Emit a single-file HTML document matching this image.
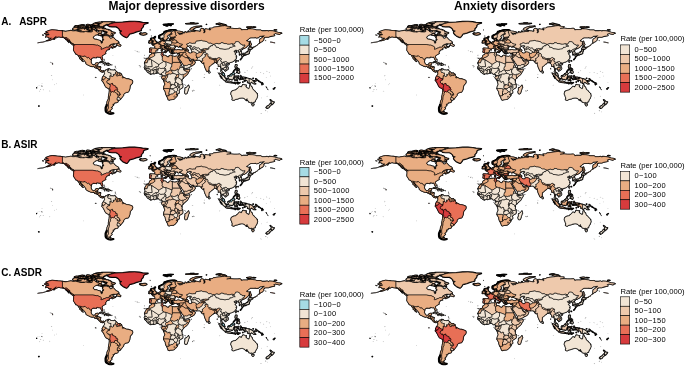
<!DOCTYPE html>
<html><head><meta charset="utf-8"><title>Figure</title>
<style>
html,body{margin:0;padding:0;background:#fff;}
body{width:685px;height:366px;overflow:hidden;font-family:"Liberation Sans",sans-serif;}
svg{display:block;}
text{font-family:"Liberation Sans",sans-serif;fill:#000;}
.t{font-size:12px;font-weight:bold;}
.r{font-size:10px;font-weight:bold;}
.lt{font-size:7.65px;}
.ll{font-size:7.5px;letter-spacing:0.3px;}
</style></head><body>
<svg width="685" height="366" viewBox="0 0 685 366">
<defs>
<path id="c0" d="M62.4,30.9L65.7,31.4L67.7,31.0L71.0,30.4L73.0,31.0L75.6,30.8L78.3,31.4L80.3,32.0L82.9,32.0L84.3,32.0L85.6,31.4L88.2,32.1L90.9,32.1L92.2,31.8L92.2,31.0L92.9,29.4L94.9,30.3L95.5,31.0L96.2,31.6L97.5,32.3L98.8,32.0L99.5,30.8L101.5,31.3L101.8,32.3L100.8,33.1L98.8,33.1L98.2,33.9L97.5,34.6L95.8,34.9L94.5,35.9L93.5,36.6L93.1,37.9L94.5,39.2L96.8,39.4L99.5,40.4L100.6,40.5L100.7,41.9L101.1,42.6L101.3,43.3L102.1,43.2L102.5,42.2L102.3,40.9L103.5,40.2L103.8,39.2L102.7,38.1L103.1,37.2L103.1,35.7L106.8,35.7L109.4,36.6L109.8,37.9L110.8,38.4L112.1,37.9L113.1,37.0L114.7,38.9L116.1,40.2L117.7,40.9L118.9,42.2L118.0,42.9L116.1,43.7L113.4,43.7L111.4,44.2L109.8,45.2L108.8,46.0L110.8,44.7L112.7,44.4L113.2,44.7L112.7,45.2L112.7,45.9L113.4,46.5L115.1,46.7L116.1,46.3L116.1,45.9L115.4,47.0L113.7,47.5L112.4,48.2L111.9,47.9L113.1,47.0L111.4,47.1L110.9,45.8L110.0,45.6L109.1,46.9L108.4,47.2L106.3,47.2L105.1,47.9L103.5,48.3L103.5,48.6L101.1,49.4L100.8,49.0L101.1,48.5L101.3,47.2L100.5,46.5L99.8,46.2L97.5,45.1L96.5,45.2L92.9,44.5L74.3,44.5L73.0,43.5L71.3,42.9L71.0,42.2L69.7,41.0L69.7,40.0L68.4,39.2L67.4,38.1L66.0,37.4L64.7,38.0L63.7,37.2L62.4,37.1ZM74.1,44.9L72.7,44.7L70.8,43.4L71.7,43.3L73.0,43.9L74.0,44.5ZM69.0,42.6L67.7,41.2L68.5,41.2L68.7,41.9ZM116.5,45.5L117.7,43.5L119.0,42.8L118.7,43.9L120.7,44.9L120.9,45.5L120.4,46.1L119.0,45.9L118.0,45.5Z"/>
<path id="c0t" d="M113.1,44.0L114.7,44.3L113.7,44.4ZM113.2,46.1L114.7,46.3L114.3,46.5Z"/>
<path id="c1" d="M74.3,44.5L92.9,44.5L96.5,45.2L97.5,45.1L99.8,46.2L100.5,46.5L101.3,47.2L101.1,48.5L100.8,49.0L101.1,49.4L103.5,48.6L103.5,48.3L105.1,47.9L106.3,47.2L108.4,47.2L109.1,46.9L110.0,45.6L110.9,45.8L111.4,47.1L111.4,47.5L109.4,48.0L109.0,48.7L109.4,49.4L108.4,49.6L106.8,50.1L106.6,50.8L105.8,51.5L105.5,52.5L105.8,53.6L104.8,54.1L103.5,54.9L102.1,55.8L101.9,56.8L102.5,58.5L102.8,59.8L102.5,60.3L101.8,60.1L101.0,58.6L101.0,57.8L100.2,57.1L99.2,57.3L97.5,56.9L96.5,57.0L96.6,57.8L95.5,57.7L93.5,57.4L91.5,58.5L91.3,59.8L90.2,59.4L89.2,58.1L88.6,57.3L87.6,57.8L86.6,57.3L85.2,55.9L84.1,55.9L84.1,56.3L82.3,56.3L79.7,55.5L78.2,55.5L77.3,54.5L75.9,54.1L75.0,52.6L74.6,52.0L73.8,50.8L73.5,50.2L73.5,49.2L73.7,47.5L73.7,46.4L73.2,44.9L74.3,45.1L74.6,45.5Z"/>
<path id="c2" d="M62.4,30.9L62.4,37.1L63.7,37.2L64.7,38.0L66.0,37.4L67.4,38.1L68.4,39.2L69.7,40.0L69.7,40.6L68.4,40.6L67.0,39.6L65.7,38.7L65.0,38.2L63.4,37.4L60.4,37.2L59.1,36.8L57.8,36.9L56.4,37.7L55.2,37.8L55.4,36.7L56.4,36.5L54.4,37.6L53.8,38.2L52.1,39.2L50.8,39.9L49.1,40.4L47.8,40.8L46.6,40.8L48.5,40.0L49.8,39.6L51.5,38.1L50.5,38.1L48.5,37.9L48.5,37.2L46.5,36.7L45.8,36.2L46.2,35.6L47.8,35.1L49.1,34.8L49.1,34.3L47.2,34.3L45.5,34.1L44.4,33.5L47.2,32.9L48.5,33.1L47.5,32.6L45.8,31.8L47.8,31.0L49.8,30.3L52.1,29.8L55.1,30.1L57.8,30.4L60.4,30.6ZM53.4,38.9L54.8,38.4L54.9,38.9L53.8,39.4Z"/>
<path id="c2t" d="M42.0,34.9L44.0,35.1L43.2,35.3ZM45.0,37.1L46.0,37.1L45.8,37.4ZM52.5,64.4L53.1,64.0L52.6,63.6ZM52.0,63.2L52.5,63.2L52.2,63.4ZM51.0,62.8L51.3,62.8L51.1,62.9ZM50.0,62.4L50.3,62.4L50.1,62.5Z"/>
<path id="c3" d="M46.6,40.8L45.5,41.3L44.2,41.8L42.5,42.2L40.2,42.4L38.8,42.7L37.9,42.8L37.5,42.9L37.9,42.7L38.8,42.6L40.2,42.4L42.5,42.1L44.2,41.7L45.5,41.2ZM270.1,42.0L271.7,42.3L273.7,42.7L275.1,42.9L273.7,42.6L271.7,42.1Z"/>
<path id="c4" d="M107.4,25.2L110.8,23.7L114.7,22.7L122.7,22.3L129.3,21.7L134.6,21.6L139.2,22.0L142.6,22.7L147.9,23.0L144.5,24.0L143.2,25.0L143.2,26.3L142.6,27.3L141.2,28.6L141.2,29.3L141.2,30.3L139.2,31.0L135.9,31.8L133.3,32.9L130.6,33.5L129.3,33.9L128.6,35.3L127.3,36.9L126.7,37.4L125.3,36.8L123.3,35.9L121.7,34.6L120.4,32.9L120.4,32.0L122.0,31.0L119.7,30.3L119.4,29.0L118.0,27.6L116.1,26.6L112.1,26.6L109.4,26.3L108.8,25.7Z"/>
<path id="c5" d="M78.2,55.5L79.7,55.5L82.3,56.3L84.1,56.3L84.1,55.9L85.2,55.9L86.6,57.3L87.6,57.8L88.6,57.3L89.2,58.1L90.2,59.4L91.3,59.8L91.0,62.1L91.9,64.1L93.2,64.9L94.9,64.7L95.8,63.1L97.5,62.8L98.2,62.8L98.3,63.4L97.8,64.4L97.3,64.7L96.8,65.2L95.5,65.2L95.5,65.6L95.8,66.3L95.0,66.3L94.7,67.4L93.5,66.3L92.2,66.6L90.5,66.2L89.6,65.7L88.2,65.1L86.9,64.4L85.9,63.5L86.0,62.8L85.2,61.6L84.3,60.4L83.3,59.4L82.6,58.6L81.3,57.5L80.9,56.5L79.7,55.9L79.9,56.8L80.9,58.1L81.9,59.4L82.6,60.8L83.3,61.6L82.7,61.4L81.6,60.6L81.4,59.8L80.3,59.0L79.6,58.6L80.1,58.1L79.1,57.0L78.5,56.1Z"/>
<path id="c6" d="M94.7,67.4L95.0,66.3L95.8,66.3L95.5,65.6L95.5,65.2L96.8,65.2L96.7,66.5L97.4,66.6L96.6,67.5L96.1,67.9Z"/>
<path id="c7" d="M96.8,65.2L97.3,64.7L97.5,65.4L96.9,66.5L96.7,66.5Z"/>
<path id="c8" d="M96.1,67.9L96.6,67.5L97.6,67.8L97.6,68.3Z"/>
<path id="c9" d="M96.6,67.5L97.4,66.6L98.8,66.4L100.7,67.1L99.6,67.3L98.4,67.9L98.0,68.4L97.6,68.3L97.6,67.8Z"/>
<path id="c10" d="M98.0,68.4L98.4,67.9L99.6,67.3L100.7,67.1L100.5,68.4L100.3,69.7L99.0,69.6L97.7,68.5Z"/>
<path id="c11" d="M99.0,69.6L100.3,69.7L101.1,70.6L100.9,71.6L100.5,71.4L99.5,70.6L99.0,70.0Z"/>
<path id="c12" d="M100.9,71.6L101.1,70.6L102.1,71.2L103.1,70.6L104.5,71.2L104.2,72.2L103.8,71.4L102.8,71.5L102.5,72.2L101.8,71.9Z"/>
<path id="c13" d="M99.5,62.5L100.8,61.8L102.5,61.7L104.8,62.6L106.6,63.6L104.5,63.8L104.1,63.3L102.8,62.6L101.5,62.2L100.2,62.6Z"/>
<path id="c14" d="M106.5,64.8L107.4,63.8L108.2,63.9L108.2,65.1L107.4,64.9Z"/>
<path id="c15" d="M108.2,63.9L109.4,63.9L110.5,64.7L109.4,64.9L108.2,65.1Z"/>
<path id="c16t" d="M103.9,64.8L105.3,65.0L104.8,65.2Z"/>
<path id="c17t" d="M111.3,64.8L112.3,64.9L111.7,65.1Z"/>
<path id="c18t" d="M103.9,59.3L104.5,59.4L104.2,59.5ZM104.2,60.6L104.4,60.9L104.1,61.0ZM104.6,60.4L104.5,60.4L104.5,60.4ZM105.8,61.0L105.9,61.0L105.8,61.1ZM107.0,63.1L107.4,62.9L107.3,63.2Z"/>
<path id="c19t" d="M114.8,69.9L115.4,69.9L115.3,70.3Z"/>
<path id="c20t" d="M115.1,66.8L115.2,66.8L115.1,66.9ZM115.3,67.3L115.5,67.3L115.4,67.5ZM115.4,67.8L115.5,67.9L115.4,67.9ZM116.3,68.3L116.4,68.3L116.3,68.4ZM114.9,69.0L115.0,69.0L114.9,69.0ZM114.9,65.7L114.9,65.7L114.9,65.7ZM114.9,66.2L115.3,66.3L115.0,66.4ZM110.0,68.9L110.2,69.0L110.1,69.0Z"/>
<path id="c21" d="M104.5,71.2L105.5,70.8L105.8,70.0L106.2,69.7L107.4,69.5L108.3,68.8L108.6,69.2L107.8,69.7L107.4,70.9L107.8,71.5L108.1,72.4L109.4,72.4L109.8,73.0L111.1,72.9L110.9,74.0L111.2,74.8L110.9,75.1L111.5,76.2L111.1,75.7L109.6,75.9L109.6,76.3L110.0,76.3L109.8,77.7L109.5,79.8L109.0,79.5L109.4,78.8L108.1,78.6L107.3,78.5L106.8,77.7L106.0,77.1L105.3,76.7L104.5,76.5L103.6,76.1L103.8,75.3L104.5,74.3L104.6,73.4L104.5,72.6L104.2,72.2Z"/>
<path id="c22" d="M108.6,69.2L108.4,69.8L108.8,70.8L108.4,69.8L109.4,68.9L110.6,70.0L112.1,70.0L113.4,70.2L114.7,69.9L115.4,70.7L116.2,71.5L115.6,72.0L115.9,72.4L115.3,72.6L115.1,73.1L115.6,73.6L114.3,74.3L114.2,74.5L113.1,74.3L113.8,75.5L113.3,75.3L113.4,76.0L112.4,76.5L111.5,76.2L110.9,75.1L111.2,74.8L110.9,74.0L111.1,72.9L109.8,73.0L109.4,72.4L108.1,72.4L107.8,71.5L107.4,70.9L107.8,69.7Z"/>
<path id="c23" d="M116.2,71.5L116.7,71.7L117.9,73.0L117.8,73.7L117.4,74.3L117.9,74.8L118.4,75.7L116.8,76.2L116.4,75.7L116.1,74.4L116.1,73.7L115.6,73.6L115.1,73.1L115.3,72.6L115.9,72.4L115.6,72.0Z"/>
<path id="c24" d="M117.9,73.0L120.0,73.1L119.7,73.8L119.8,74.3L119.6,75.5L118.8,75.3L118.4,75.7L117.9,74.8L117.4,74.3L117.8,73.7Z"/>
<path id="c25" d="M120.0,73.1L121.5,74.2L120.8,75.5L119.6,75.5L119.8,74.3L119.7,73.8Z"/>
<path id="c26" d="M103.6,76.1L104.5,76.5L105.3,76.7L106.0,77.1L105.7,78.0L104.9,78.7L103.9,79.3L103.7,80.0L103.3,80.2L102.5,79.9L102.6,79.3L102.8,78.7L102.1,78.5L102.3,77.7L102.8,77.0L102.8,76.5Z"/>
<path id="c26t" d="M95.2,77.2L95.5,77.2L95.5,77.7L95.2,77.6ZM95.8,77.3L96.0,77.3L96.0,77.5ZM96.4,77.5L96.6,77.5L96.6,77.6Z"/>
<path id="c27" d="M102.6,79.3L102.5,79.9L103.3,80.2L103.7,80.0L103.9,79.3L104.9,78.7L105.7,78.0L106.0,77.1L106.8,77.7L107.3,78.5L108.1,78.6L109.4,78.8L109.0,79.5L109.5,79.8L107.5,80.4L106.8,81.8L107.4,83.1L108.0,83.6L109.0,83.3L109.0,84.3L109.7,84.3L110.3,85.3L110.1,87.1L109.8,87.7L110.1,88.1L109.8,88.6L109.2,89.1L108.5,88.5L106.0,87.2L105.3,86.2L104.7,85.0L103.8,83.1L102.9,81.6L101.9,80.6L101.9,79.8Z"/>
<path id="c28" d="M109.7,84.3L110.4,84.3L111.6,83.6L112.5,83.4L112.7,85.0L113.7,85.3L114.9,85.9L115.7,86.1L115.9,87.8L117.2,87.8L117.1,88.5L117.7,89.1L117.5,89.6L117.2,90.3L116.6,89.8L114.9,90.0L114.5,90.6L114.3,91.7L114.2,91.6L113.2,92.1L112.7,91.6L111.9,91.4L111.3,92.1L110.8,92.1L110.4,90.8L110.4,89.9L109.8,88.6L110.1,88.1L109.8,87.7L110.1,87.1L110.3,85.3Z"/>
<path id="c29" d="M121.5,74.2L122.0,75.7L122.7,76.7L122.7,77.3L124.0,77.5L126.3,78.7L128.3,78.9L130.3,79.5L132.5,80.5L132.7,82.0L132.3,83.3L131.3,84.3L130.3,85.6L130.0,87.3L129.8,88.8L129.3,90.2L128.6,91.6L128.0,92.2L126.3,92.4L125.1,92.9L123.7,94.1L123.6,95.5L122.7,96.5L121.4,98.2L120.4,99.3L120.0,98.1L118.7,97.5L117.6,97.0L118.8,95.8L120.2,95.0L120.2,94.0L119.6,94.0L119.8,93.0L119.1,92.9L118.8,91.8L117.4,91.6L117.2,90.3L117.5,89.6L117.7,89.1L117.1,88.5L117.2,87.8L115.9,87.8L115.7,86.1L114.9,85.9L113.7,85.3L112.7,85.0L112.5,83.4L111.6,83.6L110.4,84.3L109.7,84.3L109.0,84.3L109.0,83.3L108.0,83.6L107.4,83.1L106.8,81.8L107.5,80.4L109.5,79.8L109.8,77.7L110.0,76.3L109.6,76.3L109.6,75.9L111.1,75.7L111.5,76.2L112.4,76.5L113.4,76.0L113.3,75.3L113.8,75.5L113.1,74.3L114.2,74.5L114.3,74.3L115.6,73.6L116.1,73.7L116.1,74.4L116.4,75.7L116.8,76.2L118.4,75.7L118.8,75.3L119.6,75.5L120.8,75.5ZM122.3,77.0L123.3,77.1L123.7,77.7L122.7,78.1L122.1,77.7Z"/>
<path id="c30" d="M114.3,91.7L114.5,90.6L114.9,90.0L116.6,89.8L117.2,90.3L117.4,91.6L118.8,91.8L119.1,92.9L119.8,93.0L119.6,94.0L118.8,95.2L118.4,95.2L117.0,95.0L117.6,93.9L116.4,93.2L115.4,92.8Z"/>
<path id="c31" d="M117.6,97.0L118.7,97.5L120.0,98.1L120.4,99.3L119.4,100.1L118.6,100.1L117.1,99.5L117.2,98.5Z"/>
<path id="c32" d="M111.3,92.1L111.9,91.4L112.7,91.6L113.2,92.1L114.2,91.6L114.3,91.7L115.4,92.8L116.4,93.2L117.6,93.9L117.0,95.0L118.4,95.2L118.8,95.2L119.6,94.0L120.2,94.0L120.2,95.0L118.8,95.8L117.6,97.0L117.2,98.5L117.1,99.5L117.1,99.9L117.9,100.5L118.2,101.2L117.7,102.2L116.7,102.6L114.7,102.8L114.6,103.8L112.7,104.2L113.6,105.2L112.7,105.7L112.4,106.8L111.1,107.5L112.1,108.5L111.1,109.5L110.1,110.5L110.5,111.6L109.4,111.4L108.1,111.4L107.4,110.6L107.6,109.5L108.4,107.8L108.2,106.2L108.2,104.2L108.6,102.2L109.1,100.5L109.4,99.2L109.4,97.9L109.6,96.5L110.5,94.9L110.5,93.2ZM110.4,111.8L112.6,113.2L111.7,113.4L110.4,113.4Z"/>
<path id="c33" d="M109.2,89.1L109.8,88.6L110.4,89.9L110.4,90.8L110.8,92.1L111.3,92.1L110.5,93.2L110.5,94.9L109.6,96.5L109.4,97.9L109.4,99.2L109.1,100.5L108.6,102.2L108.2,104.2L108.2,106.2L108.4,107.8L107.6,109.5L107.4,110.6L108.1,111.4L109.4,111.4L110.5,111.6L109.8,111.8L108.8,112.6L107.8,112.4L106.4,111.8L105.8,110.1L105.7,108.8L105.8,107.8L107.1,106.8L107.4,104.8L106.9,103.5L107.1,101.6L107.6,100.5L108.4,98.9L108.4,96.9L108.8,94.9L109.2,92.6L109.4,90.4ZM110.4,111.8L110.4,113.4L111.4,113.6L110.8,113.9L109.4,113.6L108.1,113.0L106.8,112.1L108.4,112.7L109.1,112.0Z"/>
<path id="c33t" d="M106.6,104.7L107.1,104.8L107.0,105.8L106.5,105.6Z"/>
<path id="c34" d="M149.9,49.2L150.4,49.1L151.7,49.4L151.2,50.5L150.9,51.8L150.9,52.4L149.8,52.5L149.5,51.4L149.9,50.4Z"/>
<path id="c35" d="M149.9,49.2L149.6,48.5L150.5,48.0L153.2,48.2L154.6,48.2L156.3,48.6L157.9,48.9L157.9,49.3L156.3,50.0L155.6,50.8L155.9,51.3L155.3,52.1L154.4,52.7L152.8,52.7L152.1,53.2L151.6,52.6L150.9,52.4L150.9,51.8L151.2,50.5L151.7,49.4L150.4,49.1Z"/>
<path id="c35t" d="M157.3,50.8L158.0,50.6L157.9,51.0ZM144.6,58.2L145.1,58.1L144.9,58.5ZM145.3,58.4L145.6,58.4L145.5,58.6ZM146.3,58.1L146.7,58.0L146.4,58.4ZM143.9,57.9L144.1,57.9L144.0,58.1Z"/>
<path id="c36" d="M154.6,48.2L155.0,47.5L155.0,46.5L154.3,45.7L152.7,45.2L152.7,44.8L153.8,44.7L154.7,44.8L154.6,44.1L155.9,44.1L156.9,43.3L157.5,43.1L158.6,43.9L159.6,44.2L160.0,44.3L161.2,44.5L160.8,45.5L159.8,46.4L160.4,46.6L160.3,47.2L160.8,48.0L159.8,48.4L158.5,48.2L157.9,48.9L156.3,48.6Z"/>
<path id="c36t" d="M161.5,48.9L162.0,48.5L162.1,49.2L161.9,49.6L161.5,49.2Z"/>
<path id="c37" d="M157.5,43.1L158.1,42.9L159.1,42.9L159.6,43.2L159.8,43.3L159.8,43.8L159.6,44.2L158.6,43.9Z"/>
<path id="c38" d="M158.1,42.9L158.5,42.6L158.9,41.9L159.8,41.6L160.6,41.7L160.4,42.4L159.8,42.7L159.8,43.3L159.6,43.2L159.1,42.9Z"/>
<path id="c39" d="M160.6,41.7L161.4,41.5L161.5,40.6L162.4,40.7L163.1,41.2L165.2,41.3L165.5,42.6L165.7,43.2L163.9,43.7L164.9,44.7L164.4,45.5L162.4,45.6L162.2,45.5L160.8,45.5L161.2,44.5L160.0,44.3L159.6,44.2L159.8,43.8L159.8,43.3L159.8,42.7L160.4,42.4Z"/>
<path id="c40" d="M161.5,40.6L161.2,40.2L161.2,39.2L162.8,38.8L162.6,39.6L163.0,39.6L162.4,40.7ZM163.1,40.1L164.1,39.8L164.0,40.4L163.6,40.6L163.1,40.4ZM162.3,40.2L163.0,40.2L162.9,40.6L162.4,40.5Z"/>
<path id="c41" d="M159.8,46.4L160.8,45.5L162.2,45.5L162.7,45.9L162.4,46.3L161.8,46.7L160.4,46.6Z"/>
<path id="c42" d="M162.2,45.5L162.4,45.6L164.4,45.5L164.9,44.7L165.7,44.5L167.1,44.8L167.1,45.2L166.5,46.0L165.4,46.3L164.9,46.2L163.9,46.1L162.7,45.9Z"/>
<path id="c43" d="M160.8,48.0L160.3,47.2L160.4,46.6L161.8,46.7L162.4,46.3L162.7,45.9L163.9,46.1L164.9,46.2L164.9,46.8L163.9,47.0L164.0,47.7L164.8,48.2L165.5,49.1L166.4,49.2L168.1,50.4L167.1,50.2L166.8,50.7L167.1,51.2L166.4,51.8L166.2,51.9L166.4,51.2L166.1,50.5L165.4,50.1L164.1,49.5L163.1,48.9L162.8,48.5L162.6,47.9L161.6,47.6ZM164.0,51.8L166.1,51.7L165.8,52.7L164.1,52.1ZM161.2,49.8L162.2,49.7L162.2,51.0L161.4,51.2Z"/>
<path id="c44" d="M152.0,43.9L153.5,43.7L154.5,43.5L156.7,43.1L156.1,42.9L156.9,42.1L156.0,41.9L155.8,41.5L154.8,40.6L154.5,39.9L154.5,38.8L153.2,38.8L153.8,38.2L152.5,38.2L151.8,39.0L152.2,39.9L152.5,40.6L153.5,40.6L153.8,41.2L153.8,41.6L152.8,41.8L152.8,42.4L152.3,42.7L153.5,42.9L153.8,43.1L152.8,43.2ZM152.2,40.9L151.6,40.4L150.4,40.6L150.5,41.0L151.5,41.2ZM150.8,39.2L151.7,38.3L151.2,38.4L150.8,38.9ZM153.5,37.9L154.1,37.7L153.9,38.0ZM154.7,36.9L155.3,36.8L154.9,37.3Z"/>
<path id="c45" d="M151.8,42.4L151.7,41.7L151.5,41.2L150.5,41.0L150.4,40.6L149.2,41.1L149.2,41.6L149.8,41.8L148.9,42.6L149.5,42.9L150.5,42.7Z"/>
<path id="c46" d="M139.6,33.6L140.9,33.0L142.6,33.4L143.9,33.1L145.2,32.9L146.1,33.3L146.9,33.9L145.9,34.4L143.4,35.0L141.9,34.7L140.8,34.6L141.2,34.3L139.9,34.0L141.2,33.7Z"/>
<path id="c47" d="M159.1,37.9L159.1,36.6L159.1,35.9L161.4,34.9L162.8,34.3L163.8,33.6L164.4,32.6L165.4,32.0L166.4,31.3L168.4,30.6L171.0,30.1L173.0,29.9L174.7,30.0L176.3,30.4L175.7,30.8L175.0,31.3L174.4,30.6L173.0,30.7L172.7,31.4L171.4,31.5L169.4,31.3L167.7,31.6L166.4,32.3L165.4,33.3L164.7,34.3L163.8,34.9L163.9,36.3L164.1,37.1L163.4,37.9L162.8,37.7L161.8,38.2L160.4,38.6L159.4,38.1ZM164.4,31.8L166.1,31.4L165.7,31.8ZM166.1,31.3L167.4,31.0L167.1,31.4Z"/>
<path id="c48" d="M163.4,37.9L164.1,37.1L163.9,36.3L163.8,34.9L164.7,34.3L165.4,33.3L166.4,32.3L167.7,31.6L169.4,31.3L171.4,32.0L171.7,33.4L170.4,33.6L169.7,34.3L168.4,35.1L167.3,35.9L167.2,36.6L168.1,37.2L168.3,37.6L166.9,38.6L166.6,39.6L165.3,40.2L164.4,40.3L164.1,39.6L163.3,38.4Z"/>
<path id="c48t" d="M167.9,38.9L168.4,38.6L168.3,39.0L167.9,39.2ZM166.7,39.7L167.1,39.0L167.0,39.4Z"/>
<path id="c49" d="M171.7,33.4L171.4,32.0L169.4,31.3L171.4,31.5L172.7,31.4L173.0,30.7L174.4,30.6L175.0,31.3L174.7,31.8L175.7,32.3L175.0,32.7L175.7,33.6L175.5,34.3L176.7,35.4L174.4,36.9L172.4,37.1L171.0,37.3L170.0,36.8L169.9,35.9L170.0,35.1L172.4,33.9Z"/>
<path id="c50" d="M171.4,37.8L172.0,37.6L174.4,37.6L174.0,38.7L173.0,38.8L171.9,38.6L171.4,38.2ZM170.4,38.2L171.0,38.2L170.9,38.6L170.4,38.4Z"/>
<path id="c51" d="M169.7,39.8L169.8,38.9L170.8,38.8L171.4,39.2L171.9,38.6L173.0,38.8L174.0,38.7L174.5,39.8L173.4,40.1L172.4,39.7L170.7,39.6Z"/>
<path id="c52" d="M169.7,39.8L170.7,39.6L172.4,39.7L173.4,40.1L172.9,41.0L171.4,41.3L170.9,41.0L170.8,40.6L169.8,40.4Z"/>
<path id="c53" d="M165.2,41.3L166.7,40.9L168.1,40.7L168.9,41.0L170.9,41.0L171.4,41.3L171.6,42.2L171.4,42.9L171.7,43.5L170.8,44.5L169.1,44.3L168.3,44.2L167.1,43.7L165.7,43.2L165.5,42.6Z"/>
<path id="c54" d="M163.9,43.7L165.7,43.2L167.1,43.7L168.3,44.2L167.1,44.8L165.7,44.5L164.9,44.7Z"/>
<path id="c55" d="M167.1,44.8L168.3,44.2L169.1,44.3L170.8,44.5L170.5,44.9L169.1,45.1L168.3,45.3L167.1,45.2Z"/>
<path id="c56" d="M166.5,46.0L167.1,45.2L168.3,45.3L169.1,45.1L170.5,44.9L171.0,45.3L169.8,46.4L169.2,46.5L168.3,46.6L167.4,46.6L166.7,46.2Z"/>
<path id="c57" d="M164.9,46.2L165.4,46.3L166.5,46.0L166.7,46.2L165.9,46.9L164.9,46.8Z"/>
<path id="c58" d="M164.7,46.9L165.9,46.9L166.7,46.2L167.4,46.6L168.3,46.6L168.5,47.2L167.1,47.1L166.3,47.1L166.4,47.7L167.5,48.5L168.1,48.8L167.4,48.6L165.9,47.9L165.4,47.1L165.1,47.3Z"/>
<path id="c59" d="M166.3,47.1L167.1,47.1L168.5,47.2L168.7,47.7L168.6,48.2L168.1,48.8L167.5,48.5L166.4,47.7Z"/>
<path id="c60" d="M168.3,46.6L169.2,46.5L170.0,47.1L170.7,47.5L170.8,47.7L170.7,48.3L170.6,49.0L170.0,49.0L169.4,49.2L169.1,48.7L168.6,48.2L168.7,47.7L168.5,47.2Z"/>
<path id="c61" d="M168.1,48.8L168.6,48.2L169.1,48.7L168.7,49.2Z"/>
<path id="c62" d="M168.7,49.2L169.1,48.7L169.4,49.2L169.7,50.0L169.2,50.7L168.7,50.2Z"/>
<path id="c63" d="M169.4,49.2L170.0,49.0L170.6,49.0L171.0,49.6L169.7,50.0Z"/>
<path id="c64" d="M169.2,50.7L169.7,50.0L171.0,49.6L172.0,49.5L173.2,49.4L173.0,50.0L171.7,50.0L171.6,50.5L170.8,50.2L171.0,51.0L171.7,51.8L171.0,51.9L171.2,52.8L170.7,52.9L170.2,52.6L169.8,51.9L170.4,51.6L169.7,51.6L169.5,51.2ZM171.4,53.5L173.2,53.6L173.0,53.8L171.4,53.7ZM171.2,51.2L171.9,51.7L172.1,51.8L171.4,51.4ZM173.0,51.0L173.4,51.1L173.2,51.2ZM174.2,52.9L174.5,53.0L174.2,53.2ZM172.6,52.4L172.8,52.4L172.7,52.6ZM168.9,50.6L169.1,50.8L169.0,50.9Z"/>
<path id="c65" d="M170.6,49.0L170.7,48.3L170.8,47.7L172.4,48.0L173.7,47.8L174.7,48.0L174.4,49.2L173.2,49.4L172.0,49.5L171.0,49.6Z"/>
<path id="c66" d="M169.2,46.5L169.8,46.4L171.0,45.3L172.3,45.4L173.4,45.0L174.5,46.2L174.5,46.9L175.5,47.0L174.7,48.0L173.7,47.8L172.4,48.0L170.8,47.7L170.7,47.5L170.0,47.1Z"/>
<path id="c67" d="M173.4,45.0L174.4,45.0L175.1,45.3L175.7,46.3L174.9,46.5L174.5,46.9L174.5,46.2Z"/>
<path id="c68" d="M170.5,44.9L170.8,44.5L171.7,43.5L171.4,42.9L172.4,42.6L174.0,42.9L176.0,43.0L176.9,42.5L178.2,42.3L179.3,43.6L181.0,43.9L182.4,44.1L182.2,45.2L181.1,45.8L179.0,46.1L179.0,46.4L179.7,46.7L179.0,47.0L178.3,47.2L177.7,46.7L178.0,46.3L177.0,46.0L176.1,45.9L175.5,47.0L174.5,46.9L174.9,46.5L175.7,46.3L175.1,45.3L174.4,45.0L173.4,45.0L172.3,45.4L171.0,45.3Z"/>
<path id="c69" d="M171.4,41.3L172.9,41.0L173.4,40.1L174.5,39.8L176.3,40.2L176.3,40.8L177.5,41.6L176.7,41.8L176.9,42.5L176.0,43.0L174.0,42.9L172.4,42.6L171.4,42.9L171.6,42.2Z"/>
<path id="c70" d="M173.0,50.0L173.2,49.4L174.4,49.2L175.0,49.7L174.0,49.9L173.2,50.4ZM173.2,50.5L173.0,50.9L173.7,51.6L173.9,52.5L174.5,52.7L175.4,53.0L176.1,52.6L177.3,53.1L178.3,53.0L179.7,52.6L179.6,53.2L180.1,52.6L181.0,52.6L182.3,52.6L183.8,52.4L185.5,52.4L185.2,51.6L185.3,50.7L185.5,50.7L184.7,50.4L184.6,49.8L184.0,49.5L183.3,49.6L182.3,50.1L181.0,50.1L180.0,50.0L179.0,49.6L177.7,49.6L176.7,50.0L175.1,49.8L175.0,50.0L173.7,50.2Z"/>
<path id="c71" d="M177.2,53.8L178.7,53.3L178.3,53.8L177.7,54.1Z"/>
<path id="c72" d="M176.3,30.8L177.7,31.0L179.7,31.2L183.0,32.1L182.3,33.1L179.0,32.9L177.3,32.5L178.7,33.6L178.9,34.3L180.3,34.6L181.0,34.1L182.3,34.2L182.3,33.3L185.0,32.9L185.0,31.6L186.3,32.0L186.3,32.7L187.6,32.2L190.9,31.8L191.6,31.4L194.9,31.6L195.9,30.8L198.2,31.1L200.2,31.6L200.9,30.6L200.0,30.0L201.2,28.6L202.2,28.4L204.0,29.0L203.5,30.0L204.2,31.6L203.5,32.9L204.8,32.6L205.2,31.3L204.8,30.0L205.5,28.8L207.5,29.2L208.8,29.3L210.1,30.3L210.8,29.4L209.5,28.3L212.8,28.0L213.4,27.3L216.8,26.8L220.7,26.3L224.7,25.5L226.7,26.2L230.7,26.6L230.0,28.0L226.7,28.5L228.7,28.1L231.0,28.2L234.0,28.5L237.3,28.5L239.9,28.3L241.3,29.3L241.3,30.0L243.2,29.6L245.2,29.6L247.9,29.6L248.6,28.8L252.5,29.0L255.2,29.5L256.5,30.0L260.5,30.0L262.1,30.9L265.1,30.9L267.1,30.6L268.8,31.3L269.1,30.6L272.4,30.8L275.1,31.4L277.7,32.3L281.0,32.7L281.9,33.3L280.4,33.6L279.7,34.4L276.4,33.7L275.7,33.3L274.7,33.9L273.7,34.1L274.7,35.3L274.4,35.7L271.7,36.1L269.8,36.6L268.4,37.2L265.8,37.2L264.4,37.4L264.1,38.2L263.5,38.7L263.8,39.8L263.1,40.7L261.8,41.8L260.8,42.0L259.6,43.2L259.5,41.9L259.5,40.6L259.8,39.2L261.1,38.4L262.5,37.4L263.8,36.3L264.4,35.7L261.8,36.1L259.8,36.3L258.5,37.6L256.5,37.9L255.7,37.5L253.9,37.7L250.5,37.7L248.6,38.9L246.6,40.9L248.6,41.6L249.5,41.8L248.9,43.2L248.9,44.5L247.2,46.3L245.9,47.5L243.9,48.6L243.2,48.4L242.4,49.0L242.6,48.5L242.8,47.3L243.9,47.1L245.0,45.0L242.6,45.4L242.3,44.7L240.3,44.0L239.3,42.2L237.6,41.6L235.6,41.8L235.3,42.7L234.6,43.9L233.8,44.2L233.1,44.0L232.0,43.7L230.0,44.2L229.3,44.3L227.4,44.2L226.7,43.7L223.7,43.5L223.4,42.9L221.1,42.6L220.7,43.5L218.7,43.9L216.8,43.4L214.8,44.1L214.0,44.4L213.6,44.4L212.4,44.1L210.8,43.2L208.8,43.3L206.8,41.7L204.5,41.2L202.8,41.1L201.5,40.4L198.9,40.9L196.2,41.2L195.2,43.5L194.2,43.2L192.2,43.5L189.6,42.8L187.9,43.9L186.9,43.9L186.8,45.0L188.4,46.0L186.7,46.9L186.4,47.5L186.7,48.5L187.4,49.3L186.9,49.6L186.6,49.2L185.0,48.8L183.6,48.4L182.5,48.1L181.6,47.5L180.3,46.9L181.0,46.1L181.1,45.8L182.2,45.2L182.4,44.1L181.0,43.9L179.3,43.6L178.2,42.3L176.9,42.5L176.7,41.8L177.5,41.6L176.3,40.8L176.3,40.2L174.5,39.8L174.0,38.7L174.4,37.6L175.7,37.3L174.4,36.9L176.7,35.4L175.5,34.3L175.7,33.6L175.0,32.7L175.7,32.3L174.7,31.8L175.0,31.3L175.7,30.8ZM168.9,41.0L169.8,40.4L170.8,40.6L170.9,41.0ZM250.1,41.0L250.5,41.9L250.7,42.9L251.5,44.5L250.5,45.5L250.9,46.4L249.9,46.5L249.9,45.2L249.9,43.5L249.7,42.6L249.7,41.6Z"/>
<path id="c72t" d="M258.8,43.5L259.3,43.4L259.0,43.8ZM256.8,45.7L257.3,45.5L257.0,45.9ZM254.8,46.7L255.5,46.4L255.2,46.8ZM253.2,47.2L254.2,46.9L253.7,47.5ZM252.2,48.0L252.9,47.6L252.5,47.9ZM265.4,40.4L266.1,40.6L265.8,40.8ZM264.1,37.9L264.9,37.8L264.4,38.2ZM246.6,40.6L247.2,40.4L246.9,40.8Z"/>
<path id="c73" d="M182.5,48.1L183.6,48.4L185.0,48.8L186.6,49.2L186.6,49.8L185.6,49.6L184.6,49.8L184.0,49.5L183.3,49.6L183.6,49.1L183.2,48.6Z"/>
<path id="c74" d="M184.6,49.8L185.6,49.6L185.9,50.1L186.6,50.8L186.4,51.2L185.9,50.8L185.5,50.7L184.7,50.4Z"/>
<path id="c75" d="M185.6,49.6L186.6,49.8L186.6,49.2L186.9,49.6L187.4,49.3L188.1,50.1L188.6,50.3L187.9,51.0L187.7,51.6L187.5,51.3L187.8,50.9L186.9,51.0L186.4,51.2L186.6,50.8L185.9,50.1Z"/>
<path id="c75t" d="M185.5,50.7L185.9,50.8L186.4,51.2L185.6,51.0Z"/>
<path id="c76" d="M188.4,46.0L186.8,45.0L186.9,43.9L187.9,43.9L189.6,42.8L192.2,43.5L194.2,43.2L195.2,43.5L196.2,41.2L198.9,40.9L201.5,40.4L202.8,41.1L204.5,41.2L206.8,41.7L208.8,43.3L210.8,43.2L212.4,44.1L213.6,44.4L212.8,44.9L212.4,45.9L210.8,45.7L210.3,46.9L208.8,47.2L209.0,48.5L208.9,49.0L207.5,48.6L205.8,48.6L204.8,48.4L204.5,48.8L202.8,48.8L202.7,49.0L202.5,49.5L201.5,49.6L200.9,50.0L199.9,49.7L199.5,48.9L199.5,48.5L198.8,48.0L196.9,48.2L196.2,47.7L194.6,46.9L192.9,47.2L192.9,49.6L192.1,49.2L191.2,49.3L191.4,48.8L190.2,47.8L189.7,47.5L190.2,47.2L191.4,47.0L191.4,45.7L189.6,45.5Z"/>
<path id="c77" d="M192.9,47.2L194.6,46.9L196.2,47.7L196.9,48.2L198.8,48.0L199.5,48.5L199.5,48.9L199.9,49.7L200.9,50.0L201.5,49.6L202.5,49.5L202.7,49.0L203.2,49.2L204.2,50.0L203.2,50.4L202.5,49.9L201.7,50.0L201.5,50.4L200.7,50.8L201.1,51.7L200.7,52.4L199.9,52.2L198.5,51.2L197.1,50.5L196.8,49.8L195.6,49.6L195.6,49.0L194.6,48.7L193.8,49.0L193.6,49.6L192.9,49.6Z"/>
<path id="c78" d="M191.2,49.3L192.1,49.2L192.9,49.6L193.6,49.6L193.8,49.0L194.6,48.7L195.6,49.0L195.6,49.6L196.8,49.8L197.1,50.5L198.5,51.2L199.9,52.2L198.7,52.4L198.5,53.0L197.5,53.5L196.3,53.4L196.3,52.8L195.6,52.5L194.6,52.0L193.6,51.7L192.6,51.8L192.0,52.3L192.0,51.2L191.5,50.5L191.3,49.8Z"/>
<path id="c79" d="M208.9,49.0L207.5,48.6L205.8,48.6L204.8,48.4L204.5,48.8L202.8,48.8L202.7,49.0L203.2,49.2L204.2,50.0L203.2,50.4L202.6,50.5L201.7,50.6L202.5,50.8L204.6,50.9L205.4,50.2L206.7,49.8L207.8,49.5Z"/>
<path id="c80" d="M200.7,52.4L201.1,51.7L200.7,50.8L201.5,50.4L201.7,50.0L202.5,49.9L203.2,50.4L202.6,50.5L201.7,50.6L202.5,50.8L204.6,50.9L205.5,51.5L205.4,52.4L204.2,52.3L203.2,52.7L203.2,51.7L202.3,51.9L201.8,52.4Z"/>
<path id="c81" d="M196.3,53.4L197.5,53.5L198.5,53.0L198.7,52.4L199.9,52.2L200.7,52.4L201.8,52.4L202.3,51.9L203.2,51.7L203.2,52.7L204.2,52.3L205.4,52.4L204.8,52.6L203.2,53.0L203.0,54.0L202.2,54.5L202.2,55.0L201.7,55.8L200.9,56.1L199.7,57.2L198.2,57.5L197.2,57.5L196.1,57.2L196.7,56.5L196.1,56.1L195.9,55.1L196.2,54.1Z"/>
<path id="c82" d="M196.1,57.2L197.2,57.5L198.2,57.5L199.7,57.2L200.9,56.1L201.7,55.8L202.2,55.0L202.2,54.5L203.0,54.0L203.2,53.0L204.8,52.6L205.4,52.4L206.2,53.2L207.3,53.5L206.7,54.0L205.0,54.0L204.7,55.1L205.7,55.6L205.2,56.5L204.2,57.2L202.8,58.5L202.2,58.6L202.5,60.0L202.8,60.8L201.4,60.9L201.0,61.3L200.2,60.6L199.9,60.2L198.2,60.2L196.6,60.3L196.9,59.6L197.7,59.0L197.4,58.3Z"/>
<path id="c83" d="M201.0,61.3L201.4,60.9L202.8,60.8L202.5,60.0L202.2,58.6L202.8,58.5L204.2,57.2L205.2,56.5L205.7,55.6L204.7,55.1L205.0,54.0L206.7,54.0L207.3,53.5L208.0,54.3L208.1,55.1L207.9,56.3L208.5,56.5L209.5,57.0L208.9,57.9L209.8,58.5L211.1,58.8L212.1,59.3L214.2,59.5L214.2,58.5L214.6,58.4L214.7,58.9L214.8,59.2L216.8,59.2L216.8,58.6L218.1,57.7L219.4,57.5L220.3,58.3L220.1,59.0L218.9,59.8L218.5,60.4L218.1,61.2L217.6,61.1L217.7,62.4L217.1,62.9L216.9,61.8L216.2,61.3L217.0,60.4L215.3,60.2L215.3,59.8L214.4,59.4L214.2,60.3L214.6,61.1L214.8,62.6L214.1,62.6L213.4,63.1L213.1,63.8L212.1,64.2L210.3,65.9L209.0,66.7L208.9,68.2L208.7,70.2L208.1,70.9L207.6,71.2L207.1,71.6L206.3,70.5L205.8,69.2L205.4,68.4L204.8,67.1L204.4,65.7L204.0,64.4L204.0,63.0L203.8,62.4L203.5,63.1L202.7,63.3L201.5,62.3L202.2,61.8Z"/>
<path id="c83t" d="M217.2,68.1L217.4,68.2L217.3,69.3L217.1,69.0ZM217.9,72.2L218.0,72.4L217.9,72.5Z"/>
<path id="c84" d="M208.9,57.9L209.5,57.0L210.1,56.9L211.5,57.9L212.8,58.5L214.2,58.5L214.2,59.5L212.1,59.3L211.1,58.8L209.8,58.5Z"/>
<path id="c85" d="M214.7,58.9L215.1,58.3L216.4,58.5L216.8,58.6L216.8,59.2L214.8,59.2Z"/>
<path id="c86" d="M214.8,62.6L214.6,61.1L214.2,60.3L214.4,59.4L215.3,59.8L215.3,60.2L217.0,60.4L216.2,61.3L216.9,61.8L217.1,62.9L216.9,63.3L216.6,62.2L215.8,62.1L215.4,62.5Z"/>
<path id="c87" d="M208.7,71.7L208.9,70.5L209.6,71.4L210.1,72.4L209.5,73.0L208.8,72.9L208.7,72.4Z"/>
<path id="c88" d="M214.0,44.4L214.4,45.0L215.4,45.3L216.1,46.5L216.0,47.1L217.7,47.3L219.0,47.7L219.6,48.6L222.1,48.8L225.0,49.3L227.0,48.9L228.9,48.7L229.9,48.0L229.9,47.2L231.1,47.3L232.3,46.9L233.6,46.2L235.2,46.1L234.3,45.3L232.7,45.3L232.3,45.1L233.1,44.0L233.8,44.2L234.6,43.9L235.3,42.7L235.6,41.8L237.6,41.6L239.3,42.2L240.3,44.0L242.3,44.7L242.6,45.4L245.0,45.0L243.9,47.1L242.8,47.3L242.6,48.5L242.4,49.0L241.9,48.6L240.6,49.2L240.7,49.6L239.9,49.3L238.2,50.5L237.0,50.8L236.3,51.2L236.5,50.0L236.0,49.9L235.0,50.6L233.8,51.2L234.5,51.9L234.6,52.4L235.8,52.0L237.0,52.2L236.0,52.8L234.8,53.8L235.8,55.1L236.6,56.1L236.6,56.5L235.6,56.9L236.6,57.2L236.3,58.3L235.3,59.3L235.0,60.2L234.0,60.8L233.1,61.6L231.5,62.2L231.0,62.3L229.7,62.8L228.9,62.9L228.9,63.6L228.5,62.8L227.4,62.7L226.5,61.9L225.6,61.6L224.6,62.0L223.5,62.2L223.2,63.0L222.8,62.9L222.1,62.8L221.5,62.3L221.7,61.8L221.2,61.1L220.5,61.2L220.5,60.4L221.2,59.8L221.2,58.7L220.6,58.3L220.3,58.3L219.4,57.5L218.1,57.7L216.8,58.6L216.4,58.5L215.1,58.3L214.7,58.9L214.6,58.4L214.2,58.5L212.8,58.5L211.5,57.9L210.1,56.9L209.5,57.0L208.5,56.5L207.9,56.3L208.1,55.1L208.0,54.3L207.3,53.5L206.2,53.2L205.4,52.4L205.5,51.5L204.6,50.9L205.4,50.2L206.7,49.8L207.8,49.5L208.9,49.0L209.0,48.5L208.8,47.2L210.3,46.9L210.8,45.7L212.4,45.9L212.8,44.9L213.6,44.4ZM227.8,64.3L228.3,63.8L229.3,63.8L229.0,64.6L228.3,64.9L227.8,64.7Z"/>
<path id="c89" d="M235.4,61.8L236.0,60.4L236.6,60.4L236.3,61.4L235.9,62.4Z"/>
<path id="c90" d="M214.0,44.4L214.8,44.1L216.8,43.4L218.7,43.9L220.7,43.5L221.1,42.6L223.4,42.9L223.7,43.5L226.7,43.7L227.4,44.2L229.3,44.3L230.0,44.2L232.0,43.7L233.1,44.0L232.3,45.1L232.7,45.3L234.3,45.3L235.2,46.1L233.6,46.2L232.3,46.9L231.1,47.3L229.9,47.2L229.9,48.0L228.9,48.7L227.0,48.9L225.0,49.3L222.1,48.8L219.6,48.6L219.0,47.7L217.7,47.3L216.0,47.1L216.1,46.5L215.4,45.3L214.4,45.0Z"/>
<path id="c91" d="M238.2,50.5L239.9,49.3L240.7,49.6L240.6,49.2L241.9,48.6L242.4,49.0L241.7,49.6L241.7,50.0L240.3,50.6L240.2,51.0L240.9,51.4L239.7,52.0L238.4,51.8L238.8,51.4L238.6,50.8Z"/>
<path id="c92" d="M239.7,52.0L240.9,51.4L241.5,52.5L241.5,53.5L240.9,53.9L240.3,54.0L239.5,54.2L239.5,53.5L239.7,52.8L239.4,52.5ZM239.4,54.8L239.9,54.8L239.7,55.0Z"/>
<path id="c93" d="M248.7,49.6L248.4,48.8L248.9,48.3L249.6,46.9L250.5,47.6L252.1,47.7L252.4,48.3L250.7,49.2L249.7,48.8L249.2,49.0L249.3,49.3ZM249.1,49.5L249.5,49.6L249.5,50.2L249.9,50.8L249.2,51.6L249.1,52.6L249.1,53.3L248.4,53.8L247.8,54.0L246.6,54.1L246.5,54.3L245.8,54.8L245.3,54.3L245.4,54.1L243.9,54.3L242.5,54.5L242.8,54.1L243.7,53.5L244.6,53.5L245.9,53.3L246.4,52.3L246.8,52.6L247.6,52.2L248.2,51.5L248.6,50.6L248.6,50.1L248.7,49.7ZM243.6,55.1L243.9,54.5L244.9,54.3L245.0,54.6L244.7,54.9L244.4,54.8L243.9,55.3ZM241.8,55.1L242.5,54.5L243.1,54.7L243.2,55.3L242.9,56.2L242.4,56.5L242.1,55.7L241.7,55.4ZM240.4,59.6L240.8,59.2L240.6,59.6ZM241.5,58.3L241.7,58.1L241.5,58.4ZM247.4,51.7L247.6,51.6L247.5,52.0ZM242.2,56.9L242.4,56.9L242.3,57.0ZM237.9,60.8L238.1,60.8L238.1,60.9Z"/>
<path id="c94" d="M216.9,63.3L217.1,62.9L217.7,62.4L217.6,61.1L218.1,61.2L218.5,60.4L218.9,59.8L220.1,59.0L220.3,58.3L220.6,58.3L221.2,58.7L221.2,59.8L220.5,60.4L220.5,61.2L221.2,61.1L221.7,61.8L221.5,62.3L222.1,62.8L222.8,62.9L222.1,63.5L221.7,63.6L220.7,63.9L220.3,64.7L220.9,65.9L220.9,67.1L221.5,68.4L221.5,69.2L221.2,70.4L221.1,69.4L221.1,68.4L220.6,67.1L220.5,66.1L219.9,65.8L219.0,66.5L218.3,66.4L218.4,65.4L218.3,64.5L217.7,63.9Z"/>
<path id="c95" d="M222.1,63.5L221.7,63.6L220.7,63.9L220.3,64.7L220.9,65.9L220.9,67.1L221.5,68.4L221.5,69.2L221.2,70.4L220.9,71.7L221.9,72.7L222.1,72.8L222.8,73.2L223.4,72.9L222.7,72.4L222.3,72.2L222.1,71.4L221.6,70.8L221.6,70.0L222.0,69.4L222.1,68.2L222.4,68.1L222.7,68.6L223.7,69.0L224.0,69.2L223.7,68.1L224.0,67.5L225.5,67.5L225.8,66.7L225.2,66.2L225.2,65.5L224.6,64.9L223.8,65.1L222.8,65.4L222.8,64.1L222.4,64.1Z"/>
<path id="c96" d="M222.1,63.5L222.8,62.9L223.2,63.0L223.5,62.2L224.0,62.6L224.8,63.2L225.3,63.6L224.7,64.1L225.5,64.7L226.4,65.8L227.0,67.1L227.1,67.3L226.0,67.5L225.5,67.5L225.8,66.7L225.2,66.2L225.2,65.5L224.6,64.9L223.8,65.1L222.8,65.4L222.8,64.1L222.4,64.1Z"/>
<path id="c97" d="M224.0,69.2L223.7,68.1L224.0,67.5L225.5,67.5L226.0,67.5L227.1,67.3L227.0,68.8L226.0,69.2L226.2,69.8L225.4,69.8L225.0,70.1L224.4,70.0L224.1,69.6Z"/>
<path id="c98" d="M227.4,62.7L226.5,61.9L225.6,61.6L224.6,62.0L223.5,62.2L224.0,62.6L224.8,63.2L225.3,63.6L224.7,64.1L225.5,64.7L226.4,65.8L227.0,67.1L227.1,67.3L227.0,68.8L226.0,69.2L226.2,69.8L225.4,69.8L225.0,70.1L225.2,71.2L226.4,70.6L226.7,70.1L228.0,69.4L228.3,68.5L228.1,67.4L227.5,66.3L226.7,65.7L225.9,64.5L226.4,63.6L226.9,63.1Z"/>
<path id="c99" d="M222.1,72.8L222.8,73.2L223.4,72.9L224.3,74.0L224.4,75.1L224.9,76.1L224.4,76.1L222.9,75.1L222.4,74.3L222.2,73.4ZM228.4,75.7L228.5,76.0L229.0,76.4L229.9,76.3L230.3,76.0L231.3,76.1L231.9,75.7L232.3,75.0L232.4,74.2L233.7,74.2L234.3,74.0L234.8,73.5L234.0,73.0L233.4,72.4L233.1,72.4L232.7,73.0L232.3,73.4L232.1,73.8L231.3,74.0L230.7,74.9L229.6,75.2L229.3,76.0Z"/>
<path id="c100" d="M231.3,74.0L232.1,73.8L232.1,74.2L231.7,74.3Z"/>
<path id="c101" d="M218.9,73.3L220.4,73.6L221.2,74.5L222.3,75.5L223.2,75.9L224.3,76.7L224.6,77.7L225.0,78.3L226.0,79.0L225.9,80.8L225.5,80.8L224.9,80.6L223.6,79.7L222.6,78.5L222.3,77.7L221.3,76.0L220.5,75.3L219.4,74.3ZM225.5,81.5L226.0,80.9L227.7,81.4L229.2,81.2L230.4,81.6L231.6,82.2L231.7,82.8L230.0,82.5L227.7,82.2L226.3,81.9ZM228.0,76.0L228.0,76.8L228.7,78.0L228.8,79.0L229.9,79.3L231.7,79.3L231.7,79.7L232.7,79.5L233.0,78.7L233.7,76.5L234.6,76.3L233.8,75.5L233.8,74.7L233.7,74.2L232.4,74.2L232.3,75.0L231.9,75.7L231.3,76.1L230.3,76.0L229.9,76.3L229.0,76.4L228.5,76.0L228.4,75.7ZM235.0,80.6L234.8,79.3L234.5,78.8L235.2,77.0L235.8,76.1L237.3,76.3L238.6,75.9L238.3,76.7L236.0,76.7L235.5,77.6L236.3,77.6L237.5,77.5L236.6,78.2L236.3,78.7L237.2,80.0L237.3,80.6L236.6,80.2L236.0,78.8L235.6,79.3L235.6,80.6ZM242.6,77.5L243.6,77.3L244.7,77.5L244.7,78.7L245.2,79.2L246.9,78.1L249.2,78.7L249.2,83.0L247.9,82.4L247.6,82.5L247.7,81.6L247.2,80.6L245.6,79.9L244.2,79.7L243.8,79.7L243.2,78.9L244.4,78.5L243.2,78.3L242.6,77.9ZM237.6,83.8L237.9,83.2L238.6,83.0L238.6,83.3L238.3,83.8ZM232.3,82.4L232.5,82.8L231.7,82.5ZM232.7,82.5L233.1,82.6L233.0,82.9L232.7,82.8ZM233.2,82.6L234.6,82.5L234.3,82.8L233.3,83.0ZM235.2,82.6L237.2,82.5L237.0,82.8L235.3,82.9ZM234.6,83.2L235.8,83.6L235.3,83.8ZM237.3,82.5L238.6,82.4L238.3,82.6ZM240.3,76.3L240.6,75.5L241.1,76.0L240.6,76.7L240.9,77.2L240.5,77.6ZM239.3,79.1L239.9,79.1L240.1,79.5L239.4,79.5ZM240.6,78.9L242.5,79.0L241.9,79.3L240.7,79.3ZM244.7,80.8L245.1,81.0L244.8,81.5ZM242.6,82.0L243.1,81.8L242.9,82.3ZM225.7,78.1L226.5,78.7L226.0,79.0L225.6,78.3ZM227.1,78.7L227.5,78.9L227.2,79.1ZM220.1,76.1L220.6,76.5L220.3,76.3ZM221.1,77.7L221.6,78.1L221.4,78.1ZM237.0,80.4L237.4,80.0L237.3,80.7ZM238.1,78.1L238.8,78.2L238.3,78.3ZM245.6,77.5L246.1,77.7L245.8,77.8ZM241.9,77.1L242.6,77.2L242.3,77.3Z"/>
<path id="c102" d="M238.6,83.0L240.1,82.6L239.6,82.9L238.6,83.3Z"/>
<path id="c103" d="M249.2,78.7L251.5,79.5L252.4,80.5L253.7,81.0L253.2,81.5L254.0,82.6L255.7,83.8L253.9,83.7L253.1,83.2L251.5,82.1L250.9,82.5L250.2,83.1L249.2,83.0ZM254.0,80.7L255.2,80.6L256.2,79.8L256.7,79.8L256.5,80.6L255.5,81.1L254.2,80.8ZM255.7,78.7L256.8,79.3L257.2,80.0L256.8,79.7L255.8,78.9ZM258.3,80.6L259.1,81.4L258.6,81.3ZM252.9,78.3L253.4,78.3L253.2,78.5Z"/>
<path id="c104" d="M235.6,64.7L236.8,64.7L236.9,65.7L236.4,66.5L236.4,67.6L237.3,67.8L238.0,68.7L237.3,68.3L236.6,68.1L235.7,67.9L235.3,67.1L235.2,66.3L235.5,65.7ZM236.7,72.4L237.6,71.3L238.9,70.5L239.6,72.0L239.4,72.8L238.9,73.3L237.9,72.7L237.9,72.0ZM238.1,68.7L238.8,68.7L239.1,69.6L238.6,70.2L238.3,69.7ZM236.6,69.2L237.4,69.4L237.5,70.7L237.0,70.5L236.6,70.0ZM233.4,71.4L235.0,69.5L234.6,70.4L233.6,71.3ZM235.6,68.1L236.3,68.3L236.1,68.9ZM237.6,69.8L237.9,69.7L237.6,70.6ZM237.9,70.4L238.3,70.4L238.1,70.6Z"/>
<path id="c105" d="M179.6,53.2L180.1,52.6L181.0,52.6L182.3,52.6L183.8,52.4L183.2,52.9L183.0,54.2L181.5,54.9L180.2,55.6L179.5,55.3L179.6,54.9L180.0,54.3L179.7,54.1Z"/>
<path id="c106" d="M179.1,55.1L179.6,54.9L180.0,54.3L179.7,54.1Z"/>
<path id="c107" d="M178.5,56.3L179.1,55.1L179.6,54.9L179.5,55.3L179.3,56.1L179.0,57.5Z"/>
<path id="c108" d="M179.0,57.5L179.3,56.1L179.5,55.3L180.2,55.6L181.5,54.9L181.8,55.7L180.3,56.1L181.0,56.8L180.6,57.1L179.7,57.7Z"/>
<path id="c109" d="M181.5,54.9L183.0,54.2L183.2,52.9L183.8,52.4L185.5,52.4L185.9,53.2L186.4,53.7L186.0,54.1L185.9,54.5L186.3,55.1L187.4,55.7L187.5,56.5L187.9,57.1L187.6,57.1L187.4,57.1L186.6,57.7L185.4,57.7L183.6,56.4L182.6,55.9L181.8,55.7Z"/>
<path id="c110" d="M186.6,57.7L187.4,57.1L187.6,57.1L187.9,58.1L187.3,58.1Z"/>
<path id="c111" d="M178.9,57.5L179.7,57.7L180.6,57.1L181.0,56.8L180.3,56.1L181.8,55.7L182.6,55.9L183.6,56.4L185.4,57.7L186.6,57.7L187.3,58.1L187.9,58.1L188.3,58.8L189.1,59.3L189.1,60.1L189.5,60.6L190.0,61.0L190.6,61.8L192.4,62.0L192.7,62.4L192.2,63.8L190.2,64.4L188.3,64.7L186.9,65.8L186.5,65.6L185.9,65.5L184.6,65.4L184.4,65.9L184.2,66.1L183.6,65.2L183.0,64.1L181.8,62.8L181.3,61.3L180.4,60.6L180.0,59.8L179.1,58.5L178.7,58.4Z"/>
<path id="c112" d="M184.2,66.1L184.4,65.9L184.6,65.4L185.9,65.5L186.5,65.6L186.9,65.8L188.3,64.7L190.2,64.4L191.0,65.9L190.4,66.7L188.3,67.7L187.3,68.1L185.6,68.5L184.6,68.6L184.4,68.2L184.2,67.1Z"/>
<path id="c112t" d="M191.2,68.7L191.8,68.7L191.4,68.9Z"/>
<path id="c113" d="M191.0,65.9L190.2,64.4L192.2,63.8L192.7,62.4L192.4,62.0L192.8,61.0L193.2,60.5L193.6,61.1L194.6,61.4L195.4,62.1L194.7,63.4L194.1,64.4L193.6,64.5L193.1,65.1L192.2,65.7Z"/>
<path id="c113t" d="M193.0,59.7L193.2,59.6L193.1,60.0Z"/>
<path id="c114" d="M190.0,61.0L190.6,61.8L192.4,62.0L192.8,61.0L193.2,60.5L193.1,60.0L193.0,59.7L192.4,60.1L191.9,60.8L190.6,61.0Z"/>
<path id="c115t" d="M189.5,60.6L189.7,59.7L190.0,60.2L190.0,60.7Z"/>
<path id="c116" d="M185.5,52.4L185.2,51.6L185.3,50.7L185.6,51.0L186.4,51.2L186.9,51.0L187.8,50.9L187.5,51.3L187.7,51.6L188.7,52.6L189.9,53.2L191.5,53.0L192.0,52.3L192.6,51.8L193.6,51.7L194.6,52.0L195.6,52.5L196.3,52.8L196.3,53.4L196.2,54.1L195.9,55.1L196.1,56.1L196.7,56.5L196.1,57.2L197.4,58.3L197.7,59.0L196.9,59.6L196.6,60.3L194.9,60.2L193.8,60.0L193.6,59.2L193.2,59.0L191.9,59.4L190.6,58.8L189.5,57.8L188.9,57.0L188.3,56.9L187.9,57.1L187.5,56.5L187.4,55.7L186.3,55.1L185.9,54.5L186.0,54.1L186.4,53.7L185.9,53.2Z"/>
<path id="c117" d="M147.1,58.6L150.0,58.6L150.0,58.0L152.5,57.1L153.4,56.6L154.9,55.5L154.6,54.1L154.3,53.7L153.8,53.6L152.3,53.3L151.9,53.3L151.3,54.5L150.2,54.9L149.6,55.5L149.3,56.5L149.3,57.3L148.2,58.1Z"/>
<path id="c118" d="M147.1,58.6L150.0,58.6L150.1,58.9L150.1,59.8L147.9,59.8L147.9,61.4L147.2,61.8L147.2,62.9L144.6,62.9L144.5,63.2L145.2,61.2L146.2,59.7Z"/>
<path id="c119" d="M144.6,62.9L147.2,62.9L147.2,61.8L147.9,61.4L147.9,59.8L150.1,59.8L150.1,58.9L152.6,60.4L151.5,60.4L152.2,66.1L152.2,66.7L149.6,66.8L148.2,66.7L147.7,67.2L146.9,66.3L146.2,66.0L144.9,66.3L145.2,65.1L144.9,64.1L145.0,63.4L144.5,63.2Z"/>
<path id="c120" d="M147.7,67.2L148.2,66.7L149.6,66.8L152.2,66.7L152.2,66.1L151.5,60.4L152.6,60.4L156.6,63.0L157.9,63.9L158.6,64.3L158.6,66.1L158.1,66.8L156.7,66.9L155.9,67.1L155.3,67.0L154.5,67.6L153.5,68.2L152.9,68.7L152.3,69.2L152.2,70.1L151.7,70.0L150.5,70.2L150.0,69.7L149.8,68.8L148.8,69.0L148.2,68.8L148.2,68.1Z"/>
<path id="c121" d="M144.9,66.3L146.2,66.0L146.9,66.3L147.7,67.2L148.2,68.1L148.2,68.8L146.7,68.7L145.9,68.6L144.7,68.8L144.7,68.3L145.7,68.2L146.7,68.3L146.7,68.1L145.9,67.9L144.7,68.0L144.2,67.3Z"/>
<path id="c122" d="M144.7,68.3L144.7,68.0L145.9,67.9L146.7,68.1L146.7,68.3L145.7,68.2Z"/>
<path id="c123" d="M144.7,68.8L145.9,68.6L146.7,68.7L146.7,69.2L145.9,69.8L145.2,69.3Z"/>
<path id="c124" d="M145.9,69.8L146.7,69.2L146.7,68.7L148.2,68.8L148.8,69.0L149.8,68.8L150.0,69.7L150.5,70.2L150.4,71.0L150.7,71.4L150.3,72.0L149.6,72.1L149.5,71.4L149.0,71.4L148.8,71.0L148.4,70.4L147.5,70.4L147.0,71.0L146.7,70.5L146.1,70.0Z"/>
<path id="c125" d="M147.0,71.0L147.5,70.4L148.4,70.4L148.8,71.0L149.0,71.4L148.8,71.8L148.2,72.4L147.5,72.1L147.1,71.5Z"/>
<path id="c126" d="M148.2,72.4L148.8,71.8L149.0,71.4L149.5,71.4L149.6,72.1L150.3,72.0L150.2,72.7L150.8,73.2L150.8,74.1L149.8,73.7L148.6,72.8Z"/>
<path id="c127" d="M150.8,74.1L150.8,73.2L150.2,72.7L150.3,72.0L150.7,71.4L150.4,71.0L150.5,70.2L151.7,70.0L152.2,70.1L152.8,70.6L153.7,70.4L154.0,70.7L154.0,71.7L153.7,72.5L153.7,73.6L152.5,73.6L151.8,73.8Z"/>
<path id="c128" d="M152.2,70.1L152.3,69.2L152.9,68.7L153.5,68.2L154.5,67.6L155.3,67.0L155.9,67.1L156.4,68.0L157.3,68.8L157.4,69.1L156.7,69.4L156.4,69.7L155.7,69.6L153.9,69.7L154.0,70.7L153.7,70.4L152.8,70.6Z"/>
<path id="c129" d="M153.7,73.6L153.7,72.5L154.0,71.7L154.0,70.7L153.9,69.7L155.7,69.6L156.1,70.4L156.1,71.2L156.3,71.5L156.2,72.4L156.6,73.0L155.8,73.2L154.5,73.8Z"/>
<path id="c130" d="M156.6,73.0L156.2,72.4L156.3,71.5L156.1,71.2L156.1,70.4L155.7,69.6L156.4,69.7L156.9,71.0L156.9,72.9Z"/>
<path id="c131" d="M156.9,72.9L156.9,71.0L156.4,69.7L156.7,69.4L157.4,69.1L158.2,69.2L158.3,70.0L157.6,71.7L157.6,72.8Z"/>
<path id="c132" d="M157.6,72.8L157.6,71.7L158.3,70.0L158.2,69.2L158.2,68.7L158.5,68.1L159.4,67.8L160.4,68.4L161.8,68.5L162.8,68.2L164.1,68.3L164.8,67.9L165.1,68.4L165.2,68.8L164.9,69.7L164.4,70.7L163.9,71.4L163.4,72.4L162.6,72.4L162.1,72.8L161.6,73.2L161.5,73.8L160.4,74.1L159.8,74.2L159.1,73.4L158.8,72.8Z"/>
<path id="c133" d="M155.9,67.1L156.7,66.9L158.1,66.8L158.6,66.1L158.6,64.3L159.6,64.1L160.8,63.2L163.7,61.4L165.2,62.0L165.7,61.8L166.1,63.1L166.1,63.8L166.1,65.8L164.7,67.4L164.8,67.9L164.1,68.3L162.8,68.2L161.8,68.5L160.4,68.4L159.4,67.8L158.5,68.1L158.2,68.7L158.2,69.2L157.4,69.1L157.3,68.8L156.4,68.0Z"/>
<path id="c134" d="M154.3,53.7L154.6,54.1L154.9,55.5L153.4,56.6L152.5,57.1L150.0,58.0L150.0,58.6L150.1,58.9L152.6,60.4L156.6,63.0L157.9,63.9L158.6,64.3L159.6,64.1L160.8,63.2L163.7,61.4L163.4,60.9L162.4,60.6L162.1,59.5L162.4,58.8L162.3,58.3L162.1,57.0L161.8,55.7L161.3,55.5L160.8,54.6L161.2,54.0L161.3,52.8L161.5,52.6L160.4,52.5L159.1,52.6L157.8,52.6L155.8,53.2L155.1,53.3Z"/>
<path id="c135" d="M161.5,52.6L161.3,52.8L161.2,54.0L160.8,54.6L161.3,55.5L161.8,55.7L162.1,57.0L162.6,56.0L163.4,55.4L163.4,55.0L162.4,54.5L163.0,53.5L162.8,53.2L163.2,52.5L162.6,52.4L162.3,52.3Z"/>
<path id="c136" d="M163.4,55.0L163.4,55.4L162.6,56.0L162.1,57.0L162.3,58.3L162.4,58.8L162.1,59.5L162.4,60.6L163.4,60.9L163.7,61.4L165.2,62.0L165.7,61.8L171.7,64.1L171.7,63.8L172.4,63.8L172.4,62.4L172.4,56.1L171.0,55.4L170.4,55.2L169.1,55.8L169.1,56.5L168.4,56.9L167.7,56.9L166.1,56.1L165.9,55.5L164.5,55.2Z"/>
<path id="c137" d="M172.4,56.1L172.4,62.4L180.2,62.4L179.3,61.1L178.3,59.4L178.0,58.6L177.3,57.2L178.0,58.3L178.5,58.6L178.9,57.5L178.5,56.3L177.2,56.3L176.3,56.1L175.0,56.5L173.7,56.3Z"/>
<path id="c138" d="M172.4,62.4L172.4,63.8L171.7,63.8L171.7,64.1L171.7,66.6L171.0,66.7L170.7,67.7L170.4,68.6L171.0,69.8L171.8,71.2L172.4,70.2L173.4,70.7L174.4,70.8L175.3,70.4L176.2,70.5L177.2,69.2L177.8,68.9L177.8,69.9L178.3,70.7L178.5,70.0L179.0,69.2L179.7,68.6L180.0,67.5L180.3,65.7L181.4,65.1L180.5,63.8L180.3,63.1L180.2,62.4Z"/>
<path id="c139" d="M171.8,71.2L172.4,70.2L173.4,70.7L174.4,70.8L175.3,70.4L176.2,70.5L177.2,69.2L177.8,68.9L177.8,69.9L178.3,70.7L178.4,71.4L177.7,71.8L178.7,72.6L179.2,73.4L179.6,74.0L178.3,74.2L177.3,74.5L176.3,74.5L176.3,74.7L175.3,74.0L174.0,73.6L173.0,73.0L172.5,72.0Z"/>
<path id="c140" d="M165.7,61.8L171.7,64.1L171.7,66.6L171.0,66.7L170.7,67.7L170.4,68.6L171.0,69.8L170.0,70.2L168.4,71.0L168.1,71.7L166.7,71.9L166.1,72.0L165.9,71.4L165.1,70.6L166.1,70.4L165.7,69.4L165.5,68.6L165.1,68.4L164.8,67.9L164.7,67.4L166.1,65.8L166.1,63.8L166.1,63.1Z"/>
<path id="c141" d="M161.5,73.8L161.6,73.2L162.1,72.8L162.6,72.4L163.4,72.4L163.9,71.4L164.4,70.7L164.9,69.7L165.2,68.8L165.1,68.4L165.5,68.6L165.7,69.4L166.1,70.4L165.1,70.6L165.9,71.4L166.1,72.0L165.5,73.0L165.4,73.7L165.7,74.3L166.4,75.1L166.5,75.5L166.5,75.9L165.4,75.5L164.6,75.5L163.3,75.5L162.3,75.5L162.3,74.7L162.1,74.3L161.7,74.0Z"/>
<path id="c142" d="M166.1,72.0L166.7,71.9L168.1,71.7L168.4,71.0L170.0,70.2L171.0,69.8L171.8,71.2L172.5,72.0L173.0,73.0L174.0,73.6L172.7,73.5L171.7,73.7L170.7,74.2L169.4,74.1L168.1,74.2L168.1,74.7L167.4,74.6L166.7,74.9L166.5,75.9L166.5,75.5L166.4,75.1L165.7,74.3L165.4,73.7L165.5,73.0Z"/>
<path id="c143" d="M162.3,75.5L163.3,75.5L163.3,76.3L162.2,76.3Z"/>
<path id="c143t" d="M161.4,74.5L161.7,74.5L161.6,74.8Z"/>
<path id="c144" d="M162.2,76.3L163.3,76.3L163.3,75.5L164.6,75.5L164.5,76.1L165.3,76.1L165.4,77.3L165.3,78.3L164.4,78.6L164.1,78.3L163.5,78.6L163.6,79.4L163.2,79.6L162.1,78.6L161.6,77.5L162.0,76.8Z"/>
<path id="c145" d="M163.2,79.6L163.6,79.4L163.5,78.6L164.1,78.3L164.4,78.6L165.3,78.3L165.4,77.3L165.3,76.1L164.5,76.1L164.6,75.5L165.4,75.5L166.5,75.9L166.7,74.9L167.4,74.6L168.1,74.7L167.7,75.7L167.5,77.3L166.5,78.5L166.4,79.3L165.9,79.8L165.3,80.2L164.7,80.2L164.5,80.0L164.3,79.9L163.8,80.3Z"/>
<path id="c146" d="M163.9,80.8L164.3,79.9L164.5,80.0L164.7,80.2L165.3,80.2L165.9,79.8L166.4,79.3L166.5,78.5L167.5,77.3L167.7,75.7L168.1,74.7L168.1,74.2L169.4,74.1L170.7,74.2L171.7,73.7L172.7,73.5L174.0,73.6L175.3,74.0L176.3,74.7L176.5,75.5L176.0,76.2L175.6,76.7L175.4,77.3L175.4,77.9L175.1,78.1L175.0,78.8L175.1,79.2L175.3,79.9L175.4,81.0L176.2,82.4L174.9,82.6L174.6,83.2L174.8,84.1L174.6,84.9L175.5,85.1L175.5,85.9L174.6,85.3L173.8,84.8L172.6,84.4L172.0,84.6L171.7,84.2L170.5,84.4L170.6,84.0L170.2,83.3L170.3,82.3L170.2,81.8L169.2,81.6L168.7,81.6L168.4,82.3L167.5,82.4L166.8,81.6L167.0,80.9L164.4,80.9Z"/>
<path id="c147" d="M163.9,81.0L164.4,80.9L167.0,80.9L166.8,81.6L167.5,82.4L168.4,82.3L168.7,81.6L169.2,81.6L170.2,81.8L170.3,82.3L170.2,83.3L170.6,84.0L170.5,84.4L171.7,84.2L171.7,85.6L170.4,85.6L170.4,87.7L171.3,88.7L170.0,88.9L168.1,88.5L165.1,88.5L163.6,88.5L163.8,86.9L164.1,85.9L164.9,84.3L164.5,83.0L164.4,82.8Z"/>
<path id="c147t" d="M163.8,80.3L164.3,79.9L163.9,80.8Z"/>
<path id="c148" d="M171.7,84.2L172.0,84.6L172.6,84.4L173.8,84.8L174.6,85.3L175.5,85.9L175.5,85.1L174.6,84.9L174.8,84.1L174.6,83.2L174.9,82.6L176.2,82.4L177.6,83.2L177.9,84.2L177.7,85.3L177.5,86.0L177.7,86.3L175.8,86.9L175.9,87.3L174.9,87.5L173.7,88.9L172.6,88.8L172.4,88.7L171.3,88.7L170.4,87.7L170.4,85.6L171.7,85.6Z"/>
<path id="c149" d="M163.6,88.5L165.1,88.5L168.1,88.5L170.0,88.9L171.3,88.7L172.4,88.7L172.6,88.8L171.7,89.3L171.2,88.9L169.7,89.1L169.7,91.6L169.1,91.6L169.1,93.4L169.1,95.8L167.1,95.9L166.7,95.9L165.9,94.6L165.4,92.9L165.4,91.9L164.4,90.2L163.8,89.3Z"/>
<path id="c150" d="M169.7,89.1L171.2,88.9L171.7,89.3L172.6,88.8L173.0,89.6L174.0,90.6L175.3,91.7L173.7,92.7L173.0,93.4L172.7,94.0L171.0,93.8L170.4,94.4L169.5,94.8L169.1,93.4L169.1,91.6L169.7,91.6Z"/>
<path id="c151" d="M172.6,88.8L173.7,88.9L174.9,87.5L175.9,87.3L177.6,88.1L177.7,88.9L177.5,90.6L176.5,91.8L175.3,91.7L174.0,90.6L173.0,89.6Z"/>
<path id="c152" d="M166.7,95.9L167.1,95.9L169.1,95.8L169.1,93.4L169.5,94.8L170.4,94.4L171.0,93.8L172.7,94.0L173.0,93.4L173.7,92.7L175.3,91.7L176.5,91.8L177.0,93.2L176.9,94.2L176.7,94.1L176.2,94.6L176.9,95.1L177.0,94.8L177.6,94.8L177.3,95.9L176.3,96.8L175.7,97.7L174.5,98.7L173.7,99.3L172.8,99.5L170.4,99.7L169.1,100.1L168.1,99.7L167.9,98.7L167.3,97.2Z"/>
<path id="c153" d="M173.7,96.6L174.7,96.0L175.3,96.5L174.5,97.3Z"/>
<path id="c154t" d="M176.2,94.6L176.7,94.1L176.9,94.2L177.0,94.8L176.9,95.1Z"/>
<path id="c155" d="M177.6,94.8L177.0,94.8L176.9,94.2L177.0,93.2L176.5,91.8L177.5,90.6L177.7,88.9L177.6,88.1L175.9,87.3L175.8,86.9L177.7,86.3L178.7,86.7L178.5,87.5L179.2,88.3L179.6,86.9L179.0,85.9L178.6,85.1L178.8,84.6L179.3,84.7L180.6,84.8L181.6,84.4L182.6,84.0L182.7,85.3L182.8,86.6L182.7,87.3L182.0,88.1L180.3,88.9L179.8,89.5L178.9,90.1L179.3,91.6L179.3,92.9L177.7,93.8L177.4,94.2Z"/>
<path id="c156" d="M177.6,83.2L178.3,83.3L178.8,84.6L178.6,85.1L179.0,85.9L179.6,86.9L179.2,88.3L178.5,87.5L178.7,86.7L177.7,86.3L177.5,86.0L177.7,85.3L177.9,84.2Z"/>
<path id="c157" d="M182.6,84.0L181.6,84.4L180.6,84.8L179.3,84.7L178.8,84.6L178.3,83.3L177.6,83.2L176.2,82.4L175.4,81.0L175.3,79.9L175.9,79.7L176.2,79.2L176.0,78.6L176.3,78.5L176.0,77.7L176.0,77.7L178.3,77.7L180.7,79.0L180.8,79.3L181.8,80.1L181.5,81.0L182.0,81.6L181.8,82.6L182.2,83.6Z"/>
<path id="c157t" d="M181.8,80.8L182.0,81.0L181.9,81.2ZM182.1,80.2L182.2,80.6L182.0,80.5Z"/>
<path id="c158" d="M175.0,78.8L175.1,78.1L175.4,77.9L176.0,77.7L176.3,78.5L176.0,78.6L175.6,78.8Z"/>
<path id="c159" d="M175.0,78.8L175.6,78.8L176.0,78.6L176.2,79.2L175.9,79.7L175.3,79.9L175.1,79.2Z"/>
<path id="c160" d="M175.4,77.9L175.4,77.3L175.6,76.7L176.0,76.2L176.5,75.5L176.3,74.7L176.3,74.5L177.3,74.5L178.3,74.2L178.7,75.0L179.0,75.9L178.7,76.3L178.3,76.9L178.3,77.7L176.0,77.7L176.0,77.7Z"/>
<path id="c161" d="M178.3,77.7L178.3,76.9L178.7,76.3L179.0,75.9L178.7,75.0L178.3,74.2L179.6,74.0L180.2,74.1L181.0,74.6L182.0,74.7L182.8,74.2L183.6,74.4L183.0,75.1L183.0,77.0L183.4,78.1L182.4,78.8L181.8,80.1L180.8,79.3L180.7,79.0Z"/>
<path id="c162" d="M180.0,67.5L179.7,68.6L179.0,69.2L178.5,70.0L178.3,70.7L178.4,71.4L177.7,71.8L178.7,72.6L179.2,73.4L179.6,74.0L180.2,74.1L181.0,74.6L182.0,74.7L182.8,74.2L183.6,74.4L184.3,74.0L185.6,73.7L187.6,71.7L186.9,71.7L185.0,71.0L184.3,70.7L184.1,70.0L184.2,69.7L183.5,69.7L183.9,68.7L183.0,68.1L182.3,67.4L181.3,67.4L180.9,67.1Z"/>
<path id="c163" d="M180.0,67.5L180.3,65.7L181.4,65.1L181.8,66.5L182.4,67.1L183.4,67.8L184.4,68.6L183.9,68.7L183.0,68.1L182.3,67.4L181.3,67.4L180.9,67.1Z"/>
<path id="c164" d="M183.9,68.7L184.4,68.6L184.5,69.1L184.2,69.7L183.5,69.7Z"/>
<path id="c165" d="M183.4,78.1L183.0,77.0L183.0,75.1L183.6,74.4L184.3,74.0L185.6,73.7L187.6,71.7L186.9,71.7L185.0,71.0L184.3,70.7L184.1,70.0L184.2,69.7L184.5,69.4L185.3,70.1L186.6,69.8L188.3,69.5L189.7,69.0L189.7,70.0L189.5,70.8L188.8,71.7L187.6,74.0L186.3,75.4L185.8,75.7L184.6,76.7L183.6,77.7Z"/>
<path id="c166" d="M188.5,85.0L189.3,87.3L188.8,87.9L188.5,88.9L187.9,90.9L187.1,93.2L186.9,93.6L185.8,94.0L185.0,93.6L184.5,91.9L185.1,90.2L185.0,88.9L185.2,87.7L186.5,87.4L187.5,86.3L188.1,85.5Z"/>
<path id="c167t" d="M184.4,84.6L184.6,84.8L184.5,84.9ZM185.1,85.0L185.3,85.1L185.1,85.1ZM185.7,85.4L185.8,85.5L185.7,85.6Z"/>
<path id="c168t" d="M193.8,90.2L194.1,90.4L193.9,90.6ZM192.4,90.8L192.8,91.0L192.6,91.2Z"/>
<path id="c169t" d="M192.5,80.0L192.6,80.1L192.5,80.2Z"/>
<path id="c170t" d="M139.7,65.8L139.9,65.8L139.8,66.0ZM140.1,66.9L140.3,66.9L140.2,67.1ZM139.1,65.7L139.2,65.7L139.2,65.8ZM140.6,66.3L140.8,66.3L140.7,66.4Z"/>
<path id="c171t" d="M160.1,76.7L160.2,76.8L160.2,77.0ZM160.7,75.9L160.8,75.9L160.7,76.0Z"/>
<path id="c172" d="M231.5,91.4L231.0,92.9L230.9,94.2L231.5,95.2L232.0,96.9L232.5,98.2L232.0,99.3L232.1,99.7L233.0,100.2L234.0,100.3L235.3,99.5L237.9,98.9L239.3,98.3L241.3,97.9L242.7,97.9L243.6,98.2L244.7,98.7L245.7,100.1L247.1,98.6L246.9,99.5L246.6,100.3L247.4,99.7L247.6,100.1L247.4,100.6L248.3,100.8L248.9,102.2L249.2,102.2L250.9,102.7L251.7,102.3L252.8,102.9L253.9,102.1L255.2,101.8L255.3,100.8L256.0,99.5L256.8,98.3L257.2,97.2L257.6,95.9L257.3,94.2L257.2,93.6L256.4,92.9L255.7,92.2L254.8,91.2L254.5,90.6L253.1,89.7L252.5,88.6L252.1,86.9L251.1,86.5L250.7,85.3L250.2,84.1L249.7,85.5L249.5,86.9L249.1,88.6L248.2,88.6L247.2,87.9L245.8,86.9L245.9,85.9L246.4,85.1L245.2,85.1L243.6,84.6L243.2,84.4L242.6,85.1L241.8,86.1L241.6,86.9L240.7,86.9L240.5,86.5L239.4,86.3L238.6,87.3L237.6,88.5L236.8,88.9L236.0,89.9L234.6,90.2L233.1,90.6L231.7,91.4ZM251.7,104.0L252.9,104.2L254.0,104.0L254.0,104.8L253.5,105.6L253.1,105.9L252.5,105.8L252.0,105.0Z"/>
<path id="c172t" d="M242.1,84.6L242.7,84.6L242.5,84.8ZM246.2,86.1L246.6,86.2L246.3,86.4ZM246.4,100.7L247.2,100.7L246.9,100.8ZM251.1,103.3L251.3,103.5L251.1,103.6ZM253.9,103.4L254.0,103.6L253.8,103.7ZM257.2,93.4L257.4,93.9L257.2,94.0Z"/>
<path id="c173" d="M270.2,99.8L271.3,100.5L272.1,101.2L272.4,101.8L274.1,102.0L273.6,103.0L273.1,103.2L273.0,103.7L271.9,104.6L271.6,104.4L271.9,103.6L270.9,103.0L271.5,102.5L271.6,101.7L270.7,100.5ZM270.2,103.8L271.3,104.6L270.4,105.5L270.3,105.9L269.3,106.3L269.0,107.4L268.1,107.9L267.4,107.9L266.1,107.5L266.8,106.7L267.4,106.2L268.8,105.5L269.4,104.7L269.9,104.0ZM266.8,108.0L267.2,108.1L266.9,108.3ZM38.7,106.0L39.1,106.1L38.9,106.2Z"/>
<path id="c174" d="M259.5,81.4L260.1,81.8L259.8,81.9ZM260.1,82.0L261.1,82.4L260.8,82.6ZM261.5,83.2L262.1,83.3L262.0,83.5L261.6,83.4ZM262.3,82.6L262.7,83.2L262.3,83.0ZM262.7,83.8L263.3,84.1L263.0,84.2ZM261.7,84.6L262.1,84.8L261.8,84.8Z"/>
<path id="c175" d="M266.2,86.8L266.6,87.3L266.3,87.3ZM266.6,87.6L267.0,87.9L266.7,87.9ZM267.2,88.7L267.4,88.8L267.2,88.8ZM267.9,89.4L268.0,89.5L267.8,89.5ZM268.0,89.9L268.1,90.0L268.0,90.0Z"/>
<path id="c176" d="M273.3,88.6L274.1,88.7L274.1,89.1L273.3,89.0ZM274.2,88.0L275.1,87.7L274.7,88.1ZM36.6,87.7L36.7,87.9L36.6,87.9Z"/>
<path id="c177t" d="M41.4,85.9L41.7,86.0L41.5,86.1ZM41.9,86.1L42.2,86.2L42.0,86.3ZM39.7,91.0L39.8,91.0L39.7,91.1ZM40.5,89.3L40.6,89.4L40.5,89.5ZM49.9,91.0L50.0,91.1L49.9,91.1ZM43.2,89.6L43.3,89.7L43.2,89.7ZM51.5,75.7L51.6,75.8L51.5,75.9ZM52.5,79.7L52.6,79.7L52.5,79.7ZM54.9,84.6L55.0,84.6L54.9,84.6ZM56.3,83.6L56.4,83.6L56.3,83.6ZM270.4,76.1L270.5,76.1L270.4,76.1ZM269.2,72.3L269.3,72.4L269.2,72.4ZM266.9,71.2L267.0,71.3L266.9,71.3ZM260.6,72.4L260.7,72.5L260.6,72.5ZM256.4,72.1L256.4,72.2L256.4,72.2ZM263.7,73.5L263.8,73.5L263.7,73.6ZM247.3,70.7L247.4,70.8L247.3,70.8ZM244.9,72.0L245.0,72.2L244.9,72.2ZM251.7,68.1L251.8,68.1L251.7,68.2ZM252.3,67.0L252.4,66.9L252.3,67.1ZM266.4,77.3L266.4,77.3L266.4,77.4ZM274.5,82.6L274.5,82.6L274.5,82.7ZM42.0,83.1L42.0,83.1L42.0,83.2ZM39.1,85.8L39.1,85.8L39.1,85.9ZM37.8,86.5L37.9,86.5L37.8,86.5ZM83.3,95.0L83.4,95.0L83.3,95.0ZM204.4,74.2L204.5,74.3L204.4,74.3ZM204.2,77.0L204.3,77.4L204.2,77.4ZM138.9,52.0L139.1,52.0L139.0,52.0ZM136.9,51.5L137.2,51.6L137.1,51.6ZM137.7,51.4L137.8,51.4L137.8,51.4ZM135.1,50.8L135.2,50.9L135.1,50.9ZM144.4,55.3L144.7,55.3L144.5,55.4ZM112.9,55.6L112.9,55.6L112.9,55.7ZM180.8,108.1L180.9,108.1L180.8,108.1ZM151.2,35.9L151.5,35.7L151.4,36.3ZM261.0,113.1L261.1,113.2L261.1,113.3ZM265.8,110.5L266.0,110.7L265.8,110.7ZM267.8,111.8L267.9,111.8L267.8,111.8ZM267.1,96.2L267.2,96.2L267.1,96.3ZM261.2,97.9L261.2,97.9L261.1,97.9ZM225.8,84.0L225.8,84.0L225.8,84.0ZM219.9,85.0L220.0,85.0L219.9,85.1ZM101.9,64.2L102.1,64.2L102.0,64.3ZM102.7,63.9L102.9,63.9L102.8,64.0ZM107.9,62.6L108.4,62.6L108.1,62.7Z"/>
<path id="c178" d="M96.2,28.1L97.5,28.2L98.5,28.0L99.5,28.4L99.8,28.1L101.1,28.1L102.1,28.2L102.5,28.8L103.8,28.7L104.8,28.9L105.8,29.0L106.4,29.4L107.8,29.5L108.8,29.8L108.4,30.2L109.8,30.2L110.8,30.6L110.4,31.0L111.4,31.3L111.1,31.8L112.7,32.0L113.4,32.4L114.7,32.6L115.2,32.9L114.4,33.5L113.4,33.9L112.4,33.3L111.4,33.0L110.8,33.1L111.4,33.6L112.4,34.2L112.7,35.1L113.1,35.6L112.1,35.3L111.1,35.0L110.4,34.8L111.4,35.4L112.7,36.0L110.8,35.9L109.4,35.6L108.1,34.7L107.1,34.5L106.1,34.3L105.1,34.4L104.1,34.4L104.1,33.9L106.8,33.6L106.8,32.9L107.4,32.3L107.4,31.8L106.1,31.4L104.8,31.0L103.5,30.6L103.5,30.3L101.5,30.6L99.5,30.6L97.8,30.4L96.5,30.0L97.5,29.6L96.2,29.0ZM102.8,28.2L104.1,28.2L105.5,28.6L104.1,28.9L102.1,28.6ZM98.8,33.4L100.2,33.3L100.8,33.9L102.1,34.5L102.5,34.9L101.1,34.7L100.2,35.3L99.2,35.1L98.2,34.9L98.8,34.3L99.2,33.9ZM100.8,35.3L102.8,35.7L101.1,35.8ZM102.6,35.7L103.3,35.9L102.8,36.2ZM103.8,35.0L104.5,35.1L104.1,35.2ZM104.8,32.0L106.1,32.1L105.5,32.4ZM103.1,31.3L104.1,31.2L103.8,31.6ZM102.8,39.6L103.5,39.6L103.3,40.0ZM102.5,37.4L102.9,37.3L102.8,37.6ZM101.5,41.8L102.5,42.0L101.8,42.1ZM99.8,33.3L100.5,33.1L100.2,33.6ZM78.4,30.9L78.0,30.2L81.6,30.4L81.3,30.1L78.3,30.0L77.3,29.7L79.6,29.6L77.6,29.3L77.0,29.1L77.3,28.9L78.3,28.6L79.9,28.4L80.6,28.8L82.3,28.8L82.9,28.6L84.3,28.5L84.4,29.2L84.3,29.5L84.9,29.4L85.6,28.4L86.2,28.2L86.6,28.4L86.2,28.8L86.6,29.4L86.7,30.0L88.2,30.3L88.9,30.5L89.0,30.8L88.2,31.0L88.4,31.3L86.2,31.2L85.2,31.4L83.9,31.6L82.3,31.6L80.6,31.6L80.3,31.2L78.6,31.3ZM72.7,29.3L73.0,28.6L74.0,27.7L75.6,27.6L77.6,27.8L79.4,28.3L78.0,28.7L76.6,29.6L75.6,29.8L74.3,29.9L73.3,29.6ZM78.3,27.0L79.6,26.4L80.9,26.5L82.9,26.3L83.6,26.7L83.9,26.2L85.6,26.6L85.9,27.0L85.6,27.3L83.9,27.4L82.9,27.1L81.6,27.6L80.3,27.5L80.9,27.2L79.3,27.3L78.3,27.3ZM74.3,26.6L75.6,26.0L77.0,25.8L79.0,26.3L78.0,26.6L77.0,26.8ZM77.0,26.8L78.0,26.7L78.0,27.1ZM86.9,26.3L88.9,26.1L90.9,26.3L89.9,26.8L90.9,27.3L89.6,27.4L88.6,26.9L87.6,27.2L87.9,26.6ZM86.2,26.6L86.8,26.6L86.6,27.0ZM87.6,26.0L88.9,25.8L88.6,26.1ZM91.9,27.0L93.9,27.1L93.5,27.5L92.2,27.4ZM88.2,28.3L89.6,28.0L91.5,28.2L90.9,28.8L91.5,29.6L90.2,29.8L88.9,29.6L87.8,29.0L89.2,28.8ZM92.5,28.0L94.2,27.8L95.8,28.0L94.9,28.6L94.2,29.3L92.5,29.2L92.9,28.6ZM89.9,31.0L91.2,30.6L92.2,30.7L92.5,31.4L91.5,31.6L90.5,31.6ZM85.2,28.2L86.2,28.0L86.2,28.5ZM89.6,31.3L90.2,31.2L89.9,31.5ZM82.9,31.7L83.6,31.6L83.3,31.9ZM94.9,26.3L96.2,26.1L96.8,26.8L98.8,26.9L100.8,26.8L102.1,26.8L102.8,27.2L102.8,27.6L100.8,27.6L98.8,27.7L97.2,27.5L95.5,27.6L94.9,27.3L96.2,27.0L94.9,26.7ZM102.8,26.5L100.8,26.4L99.5,26.0L96.8,26.4L97.5,25.7L99.8,25.7L97.5,25.3L98.8,24.9L99.5,24.7L98.8,24.1L100.2,23.9L98.2,23.7L101.5,23.6L98.5,23.3L95.5,23.0L96.2,22.7L99.5,22.3L102.8,22.4L101.5,22.0L106.1,21.9L109.4,21.9L112.1,22.1L114.7,22.3L113.4,22.7L110.8,22.9L112.7,23.0L111.4,23.5L109.4,23.7L108.8,24.1L106.1,24.3L105.5,24.8L106.1,25.0L104.1,25.4L104.8,25.7L103.1,25.9L104.1,26.3ZM92.9,24.3L93.5,23.7L94.9,23.2L96.2,23.6L97.5,24.0L98.2,25.0L96.8,25.2L95.5,25.1L94.2,24.7ZM86.2,25.0L87.6,24.5L89.6,24.7L90.2,25.3L88.9,25.5L87.6,25.5ZM90.9,25.0L91.9,24.8L92.9,25.0L92.2,25.5L91.2,25.4ZM80.9,25.0L82.9,24.8L82.9,25.5L80.9,25.6ZM82.9,25.1L84.3,24.9L83.9,25.3ZM86.2,25.7L86.9,25.5L86.6,25.9ZM92.2,25.5L93.9,25.5L92.9,25.7ZM95.5,25.8L96.5,25.7L96.2,25.9ZM78.3,25.7L80.3,25.3L80.6,25.8L79.3,25.9ZM87.9,26.6L88.2,26.4L88.6,26.7ZM91.9,26.2L93.2,26.1L92.9,26.5ZM103.1,26.6L103.8,26.6L103.5,26.8ZM98.2,30.6L98.8,30.4L98.8,30.8ZM95.8,31.1L96.5,31.0L96.2,31.3ZM91.9,28.3L92.3,28.2L92.2,28.6ZM84.9,26.7L85.9,26.6L85.6,27.0Z"/>
<path id="c179" d="M189.9,29.4L190.9,28.3L192.9,27.3L195.6,26.5L201.2,26.1L199.5,26.8L195.6,27.6L193.9,28.6L192.6,29.3L193.9,30.2L191.6,30.2L190.2,29.8ZM194.6,30.4L195.6,30.6L194.9,30.8ZM188.3,31.0L188.9,31.2L187.9,31.4ZM218.7,24.7L222.1,24.0L225.4,24.7L224.7,25.2L221.4,25.4ZM216.1,24.0L219.4,23.2L221.4,23.7L218.7,24.1ZM222.1,24.5L226.0,25.1L226.7,25.5L223.4,25.6ZM185.6,23.6L188.9,23.4L193.6,23.3L198.2,23.3L195.6,23.8L190.9,23.9L186.9,23.9ZM190.2,23.0L194.2,22.8L192.9,23.1ZM246.6,27.2L249.9,26.6L251.9,27.0L255.2,27.2L252.5,27.4L248.6,27.6ZM247.9,28.4L250.5,28.2L249.9,28.5ZM252.9,27.0L255.8,27.1L254.2,27.4ZM274.1,29.8L275.1,29.6L276.7,29.8L275.1,30.0ZM201.2,26.3L201.8,26.1L201.5,26.5ZM206.2,24.4L206.8,24.3L206.5,24.5Z"/>
<path id="c180" d="M163.1,24.3L166.4,24.0L169.1,24.3L170.0,25.1L168.4,25.7L167.1,26.3L165.1,25.7L163.1,25.0ZM167.7,23.9L170.4,23.7L173.7,23.9L171.7,24.5L168.7,24.4ZM169.7,25.2L171.7,25.6L170.7,25.8L169.7,25.6Z"/>
<path id="c181" d="M106.1,106.0L105.5,107.8L105.5,109.5L105.6,110.8L106.1,112.0L107.1,112.7L108.4,113.4L110.1,113.7L111.7,113.7L113.5,113.2L112.4,113.2L110.4,113.3L109.1,113.0L107.9,112.4L107.0,111.6L106.8,110.5L106.6,109.1L106.6,107.8L106.9,106.5ZM106.6,104.7L107.1,104.8L107.0,105.8L106.5,105.6Z"/>
<path id="c182" d="M67.4,40.6L68.4,40.4L68.0,39.7L67.2,39.9ZM66.0,39.4L66.9,39.2L66.6,38.6L65.7,38.7ZM66.7,39.8L67.4,39.6L67.0,39.0ZM68.7,40.4L69.1,40.3L68.9,40.0ZM70.0,41.9L70.5,41.8L70.2,41.4ZM70.7,42.6L71.1,42.4L70.9,42.0Z"/>
<path id="c183" d="M160.6,38.1L160.4,38.6L159.2,38.2L158.8,37.2L158.8,36.3L159.1,35.6L161.1,34.6L162.8,33.7L163.8,32.7L164.1,32.0L165.4,31.3L167.4,30.6L169.7,30.2L172.4,29.8L174.7,29.8L176.3,30.3L175.0,30.4L172.4,30.3L170.0,30.7L168.1,31.2L166.4,31.8L165.2,32.6L164.4,33.4L163.3,34.3L161.8,35.1L160.4,35.8L160.1,36.5L160.2,37.4Z"/>
<path id="c184t" d="M149.8,29.9L150.5,29.9L150.2,30.0Z"/>
<path id="c185" d="M259.3,43.5L257.8,44.5L256.5,45.7L255.2,46.5L253.9,47.2L252.7,47.7L252.5,47.5L253.9,47.0L255.2,46.3L256.5,45.5L257.8,44.3L259.1,43.3Z"/>
<g id="all"><g stroke-width="1.1"><use href="#c0"/><use href="#c1"/><use href="#c2"/><use href="#c5"/><use href="#c6"/><use href="#c7"/><use href="#c8"/><use href="#c9"/><use href="#c10"/><use href="#c11"/><use href="#c12"/><use href="#c14"/><use href="#c15"/><use href="#c21"/><use href="#c22"/><use href="#c23"/><use href="#c24"/><use href="#c25"/><use href="#c26"/><use href="#c27"/><use href="#c28"/><use href="#c29"/><use href="#c30"/><use href="#c31"/><use href="#c32"/><use href="#c33"/><use href="#c34"/><use href="#c35"/><use href="#c36"/><use href="#c37"/><use href="#c38"/><use href="#c39"/><use href="#c41"/><use href="#c42"/><use href="#c48"/><use href="#c49"/><use href="#c51"/><use href="#c52"/><use href="#c53"/><use href="#c54"/><use href="#c55"/><use href="#c56"/><use href="#c57"/><use href="#c59"/><use href="#c60"/><use href="#c61"/><use href="#c62"/><use href="#c63"/><use href="#c65"/><use href="#c66"/><use href="#c67"/><use href="#c68"/><use href="#c69"/><use href="#c70"/><use href="#c71"/><use href="#c72"/><use href="#c73"/><use href="#c74"/><use href="#c75"/><use href="#c76"/><use href="#c77"/><use href="#c78"/><use href="#c79"/><use href="#c80"/><use href="#c81"/><use href="#c82"/><use href="#c83"/><use href="#c84"/><use href="#c85"/><use href="#c86"/><use href="#c87"/><use href="#c88"/><use href="#c89"/><use href="#c90"/><use href="#c91"/><use href="#c94"/><use href="#c95"/><use href="#c96"/><use href="#c97"/><use href="#c98"/><use href="#c105"/><use href="#c106"/><use href="#c107"/><use href="#c108"/><use href="#c109"/><use href="#c110"/><use href="#c111"/><use href="#c112"/><use href="#c113"/><use href="#c114"/><use href="#c116"/><use href="#c117"/><use href="#c118"/><use href="#c119"/><use href="#c120"/><use href="#c121"/><use href="#c122"/><use href="#c123"/><use href="#c124"/><use href="#c125"/><use href="#c126"/><use href="#c127"/><use href="#c128"/><use href="#c129"/><use href="#c130"/><use href="#c131"/><use href="#c132"/><use href="#c133"/><use href="#c134"/><use href="#c135"/><use href="#c136"/><use href="#c137"/><use href="#c138"/><use href="#c139"/><use href="#c140"/><use href="#c141"/><use href="#c142"/><use href="#c143"/><use href="#c144"/><use href="#c145"/><use href="#c146"/><use href="#c147"/><use href="#c148"/><use href="#c149"/><use href="#c150"/><use href="#c151"/><use href="#c152"/><use href="#c153"/><use href="#c155"/><use href="#c156"/><use href="#c157"/><use href="#c158"/><use href="#c159"/><use href="#c160"/><use href="#c161"/><use href="#c162"/><use href="#c163"/><use href="#c164"/><use href="#c165"/><use href="#c166"/><use href="#c172"/><use href="#c183"/></g><g stroke-width="0.35"><use href="#c3"/><use href="#c185"/></g><g stroke-width="1.8"><use href="#c4"/><use href="#c45"/></g><g stroke-width="1.4"><use href="#c13"/><use href="#c50"/><use href="#c92"/></g><g stroke-width="1.9"><use href="#c40"/><use href="#c44"/></g><g stroke-width="1.2"><use href="#c43"/><use href="#c58"/><use href="#c64"/><use href="#c174"/></g><g stroke-width="1.5"><use href="#c46"/><use href="#c100"/><use href="#c102"/><use href="#c103"/><use href="#c173"/><use href="#c178"/></g><g stroke-width="2.0"><use href="#c47"/><use href="#c181"/></g><g stroke-width="1.7"><use href="#c93"/></g><g stroke-width="1.45"><use href="#c99"/><use href="#c101"/></g><g stroke-width="1.6"><use href="#c104"/><use href="#c182"/></g><g stroke-width="1.0"><use href="#c175"/><use href="#c180"/></g><g stroke-width="1.3"><use href="#c176"/><use href="#c179"/></g></g>
</defs>
<rect width="685" height="366" fill="#fff"/>
<g transform="translate(0.00,0.00)" stroke="#000" stroke-linejoin="round"><use href="#all" fill="none"/><g stroke-width="0.55"><g fill="#E9AD82"><use href="#c0"/><use href="#c0t" stroke-width="0.7"/><use href="#c5"/><use href="#c6"/><use href="#c7"/><use href="#c8"/><use href="#c9"/><use href="#c10"/><use href="#c11"/><use href="#c12"/><use href="#c23"/><use href="#c24"/><use href="#c25"/><use href="#c26"/><use href="#c26t" stroke-width="0.7"/><use href="#c27"/><use href="#c29"/><use href="#c30"/><use href="#c32"/><use href="#c33"/><use href="#c33t" stroke-width="0.7"/><use href="#c35"/><use href="#c35t" stroke-width="0.7"/><use href="#c36"/><use href="#c36t" stroke-width="0.7"/><use href="#c37" stroke-width="0.68"/><use href="#c38" stroke-width="0.68"/><use href="#c39" stroke-width="0.68"/><use href="#c40" stroke-width="0.68"/><use href="#c41" stroke-width="0.68"/><use href="#c42" stroke-width="0.68"/><use href="#c43" stroke-width="0.68"/><use href="#c44"/><use href="#c45"/><use href="#c46"/><use href="#c48"/><use href="#c48t" stroke-width="0.7"/><use href="#c49"/><use href="#c50" stroke-width="0.68"/><use href="#c51" stroke-width="0.68"/><use href="#c52" stroke-width="0.68"/><use href="#c56" stroke-width="0.68"/><use href="#c57" stroke-width="0.68"/><use href="#c58" stroke-width="0.68"/><use href="#c59" stroke-width="0.68"/><use href="#c60" stroke-width="0.68"/><use href="#c61" stroke-width="0.68"/><use href="#c62" stroke-width="0.68"/><use href="#c63" stroke-width="0.68"/><use href="#c64" stroke-width="0.68"/><use href="#c65" stroke-width="0.68"/><use href="#c67" stroke-width="0.68"/><use href="#c68"/><use href="#c69"/><use href="#c70"/><use href="#c71"/><use href="#c72"/><use href="#c72t" stroke-width="0.7"/><use href="#c73"/><use href="#c74"/><use href="#c75"/><use href="#c75t" stroke-width="0.7"/><use href="#c79"/><use href="#c80"/><use href="#c81"/><use href="#c83"/><use href="#c83t" stroke-width="0.7"/><use href="#c84"/><use href="#c85"/><use href="#c86"/><use href="#c105"/><use href="#c106"/><use href="#c107"/><use href="#c108"/><use href="#c109"/><use href="#c110"/><use href="#c111"/><use href="#c113"/><use href="#c113t" stroke-width="0.7"/><use href="#c114"/><use href="#c115t" stroke-width="0.7"/><use href="#c116"/><use href="#c117"/><use href="#c118"/><use href="#c136"/><use href="#c137"/><use href="#c138"/><use href="#c142"/><use href="#c143"/><use href="#c143t" stroke-width="0.7"/><use href="#c144"/><use href="#c145"/><use href="#c147"/><use href="#c147t" stroke-width="0.7"/><use href="#c149"/><use href="#c152"/><use href="#c153"/><use href="#c154t" stroke-width="0.7"/><use href="#c160"/><use href="#c165"/><use href="#c178"/><use href="#c179"/><use href="#c185" stroke-width="0.35"/></g><g fill="#E86F56"><use href="#c1"/><use href="#c2"/><use href="#c2t" stroke-width="0.7"/><use href="#c3" stroke-width="0.3"/><use href="#c28"/><use href="#c34"/><use href="#c135"/><use href="#c182"/></g><g fill="#D73B3D"><use href="#c4"/></g><g fill="#F2E5D5"><use href="#c13"/><use href="#c14"/><use href="#c15"/><use href="#c16t" stroke-width="0.7"/><use href="#c17t" stroke-width="0.7"/><use href="#c18t" stroke-width="0.7"/><use href="#c19t" stroke-width="0.7"/><use href="#c20t" stroke-width="0.7"/><use href="#c21"/><use href="#c22"/><use href="#c31"/><use href="#c47"/><use href="#c53"/><use href="#c54" stroke-width="0.68"/><use href="#c55" stroke-width="0.68"/><use href="#c66"/><use href="#c76"/><use href="#c77"/><use href="#c78"/><use href="#c82"/><use href="#c87"/><use href="#c88"/><use href="#c89"/><use href="#c90"/><use href="#c91"/><use href="#c92"/><use href="#c93"/><use href="#c94"/><use href="#c95"/><use href="#c96"/><use href="#c97"/><use href="#c98"/><use href="#c100" stroke-width="0.68"/><use href="#c101"/><use href="#c102"/><use href="#c103"/><use href="#c104"/><use href="#c112"/><use href="#c112t" stroke-width="0.7"/><use href="#c119"/><use href="#c120"/><use href="#c121"/><use href="#c122"/><use href="#c123"/><use href="#c124"/><use href="#c125"/><use href="#c126"/><use href="#c127"/><use href="#c128"/><use href="#c129"/><use href="#c130"/><use href="#c131"/><use href="#c132"/><use href="#c133"/><use href="#c134"/><use href="#c139"/><use href="#c140"/><use href="#c141"/><use href="#c146"/><use href="#c148"/><use href="#c150"/><use href="#c151"/><use href="#c155"/><use href="#c156"/><use href="#c157"/><use href="#c157t" stroke-width="0.7"/><use href="#c158"/><use href="#c159"/><use href="#c161"/><use href="#c162"/><use href="#c163"/><use href="#c164"/><use href="#c166"/><use href="#c167t" stroke-width="0.7"/><use href="#c168t" stroke-width="0.7"/><use href="#c169t" stroke-width="0.7"/><use href="#c170t" stroke-width="0.7"/><use href="#c171t" stroke-width="0.7"/><use href="#c172"/><use href="#c172t" stroke-width="0.7"/><use href="#c173"/><use href="#c174"/><use href="#c175"/><use href="#c176"/><use href="#c177t" stroke-width="0.7"/><use href="#c184t" stroke-width="0.7"/></g><g fill="#A6DCE5"><use href="#c99" stroke-width="0.68"/></g><g fill="#000"><use href="#c180"/><use href="#c181"/><use href="#c183"/></g></g></g>
<g transform="translate(333.40,0.00)" stroke="#000" stroke-linejoin="round"><use href="#all" fill="none"/><g stroke-width="0.55"><g fill="#EEC9AC"><use href="#c0"/><use href="#c0t" stroke-width="0.7"/><use href="#c31"/><use href="#c40" stroke-width="0.68"/><use href="#c47"/><use href="#c48"/><use href="#c48t" stroke-width="0.7"/><use href="#c49"/><use href="#c50" stroke-width="0.68"/><use href="#c51" stroke-width="0.68"/><use href="#c52" stroke-width="0.68"/><use href="#c53"/><use href="#c54" stroke-width="0.68"/><use href="#c55" stroke-width="0.68"/><use href="#c56" stroke-width="0.68"/><use href="#c57" stroke-width="0.68"/><use href="#c58" stroke-width="0.68"/><use href="#c59" stroke-width="0.68"/><use href="#c60" stroke-width="0.68"/><use href="#c61" stroke-width="0.68"/><use href="#c62" stroke-width="0.68"/><use href="#c63" stroke-width="0.68"/><use href="#c64" stroke-width="0.68"/><use href="#c65" stroke-width="0.68"/><use href="#c66"/><use href="#c67" stroke-width="0.68"/><use href="#c68"/><use href="#c70"/><use href="#c71"/><use href="#c72"/><use href="#c72t" stroke-width="0.7"/><use href="#c73"/><use href="#c74"/><use href="#c75"/><use href="#c75t" stroke-width="0.7"/><use href="#c79"/><use href="#c80"/><use href="#c82"/><use href="#c83"/><use href="#c83t" stroke-width="0.7"/><use href="#c84"/><use href="#c85"/><use href="#c86"/><use href="#c94"/><use href="#c101"/><use href="#c103"/><use href="#c105"/><use href="#c106"/><use href="#c107"/><use href="#c108"/><use href="#c109"/><use href="#c110"/><use href="#c111"/><use href="#c113"/><use href="#c113t" stroke-width="0.7"/><use href="#c114"/><use href="#c115t" stroke-width="0.7"/><use href="#c134"/><use href="#c135"/><use href="#c136"/><use href="#c137"/><use href="#c138"/><use href="#c144"/><use href="#c148"/><use href="#c149"/><use href="#c150"/><use href="#c152"/><use href="#c153"/><use href="#c154t" stroke-width="0.7"/><use href="#c161"/><use href="#c165"/><use href="#c166"/><use href="#c178"/><use href="#c179"/><use href="#c184t" stroke-width="0.7"/><use href="#c185" stroke-width="0.35"/></g><g fill="#E9AD82"><use href="#c1"/><use href="#c2"/><use href="#c2t" stroke-width="0.7"/><use href="#c3" stroke-width="0.3"/><use href="#c4"/><use href="#c5"/><use href="#c6"/><use href="#c7"/><use href="#c8"/><use href="#c9"/><use href="#c10"/><use href="#c11"/><use href="#c12"/><use href="#c21"/><use href="#c23"/><use href="#c24"/><use href="#c25"/><use href="#c29"/><use href="#c30"/><use href="#c32"/><use href="#c33"/><use href="#c33t" stroke-width="0.7"/><use href="#c35"/><use href="#c35t" stroke-width="0.7"/><use href="#c36"/><use href="#c36t" stroke-width="0.7"/><use href="#c37" stroke-width="0.68"/><use href="#c38" stroke-width="0.68"/><use href="#c39" stroke-width="0.68"/><use href="#c41" stroke-width="0.68"/><use href="#c42" stroke-width="0.68"/><use href="#c43" stroke-width="0.68"/><use href="#c44"/><use href="#c45"/><use href="#c46"/><use href="#c69"/><use href="#c81"/><use href="#c97"/><use href="#c116"/><use href="#c117"/><use href="#c118"/><use href="#c182"/></g><g fill="#F2E5D5"><use href="#c13"/><use href="#c14"/><use href="#c15"/><use href="#c16t" stroke-width="0.7"/><use href="#c17t" stroke-width="0.7"/><use href="#c18t" stroke-width="0.7"/><use href="#c19t" stroke-width="0.7"/><use href="#c20t" stroke-width="0.7"/><use href="#c22"/><use href="#c76"/><use href="#c77"/><use href="#c78"/><use href="#c87"/><use href="#c88"/><use href="#c89"/><use href="#c90"/><use href="#c91"/><use href="#c92"/><use href="#c93"/><use href="#c95"/><use href="#c96"/><use href="#c98"/><use href="#c99" stroke-width="0.68"/><use href="#c100" stroke-width="0.68"/><use href="#c102"/><use href="#c104"/><use href="#c112"/><use href="#c112t" stroke-width="0.7"/><use href="#c119"/><use href="#c120"/><use href="#c121"/><use href="#c122"/><use href="#c123"/><use href="#c124"/><use href="#c125"/><use href="#c126"/><use href="#c127"/><use href="#c128"/><use href="#c129"/><use href="#c130"/><use href="#c131"/><use href="#c132"/><use href="#c133"/><use href="#c139"/><use href="#c140"/><use href="#c141"/><use href="#c142"/><use href="#c143"/><use href="#c143t" stroke-width="0.7"/><use href="#c145"/><use href="#c146"/><use href="#c147"/><use href="#c147t" stroke-width="0.7"/><use href="#c151"/><use href="#c155"/><use href="#c156"/><use href="#c157"/><use href="#c157t" stroke-width="0.7"/><use href="#c158"/><use href="#c159"/><use href="#c160"/><use href="#c162"/><use href="#c163"/><use href="#c164"/><use href="#c167t" stroke-width="0.7"/><use href="#c168t" stroke-width="0.7"/><use href="#c169t" stroke-width="0.7"/><use href="#c170t" stroke-width="0.7"/><use href="#c171t" stroke-width="0.7"/><use href="#c172"/><use href="#c172t" stroke-width="0.7"/><use href="#c173"/><use href="#c174"/><use href="#c175"/><use href="#c176"/><use href="#c177t" stroke-width="0.7"/></g><g fill="#E86F56"><use href="#c26"/><use href="#c26t" stroke-width="0.7"/><use href="#c34"/></g><g fill="#D73B3D"><use href="#c27"/><use href="#c28"/></g><g fill="#000"><use href="#c180"/><use href="#c181"/><use href="#c183"/></g></g></g>
<g transform="translate(0.00,125.80)" stroke="#000" stroke-linejoin="round"><use href="#all" fill="none"/><g stroke-width="0.55"><g fill="#EEC9AC"><use href="#c0"/><use href="#c0t" stroke-width="0.7"/><use href="#c26"/><use href="#c26t" stroke-width="0.7"/><use href="#c27"/><use href="#c30"/><use href="#c32"/><use href="#c33"/><use href="#c33t" stroke-width="0.7"/><use href="#c35"/><use href="#c35t" stroke-width="0.7"/><use href="#c37" stroke-width="0.68"/><use href="#c38" stroke-width="0.68"/><use href="#c39" stroke-width="0.68"/><use href="#c40" stroke-width="0.68"/><use href="#c41" stroke-width="0.68"/><use href="#c42" stroke-width="0.68"/><use href="#c43" stroke-width="0.68"/><use href="#c46"/><use href="#c48"/><use href="#c48t" stroke-width="0.7"/><use href="#c50" stroke-width="0.68"/><use href="#c51" stroke-width="0.68"/><use href="#c52" stroke-width="0.68"/><use href="#c54" stroke-width="0.68"/><use href="#c55" stroke-width="0.68"/><use href="#c56" stroke-width="0.68"/><use href="#c57" stroke-width="0.68"/><use href="#c58" stroke-width="0.68"/><use href="#c59" stroke-width="0.68"/><use href="#c60" stroke-width="0.68"/><use href="#c61" stroke-width="0.68"/><use href="#c62" stroke-width="0.68"/><use href="#c63" stroke-width="0.68"/><use href="#c64" stroke-width="0.68"/><use href="#c65" stroke-width="0.68"/><use href="#c66"/><use href="#c67" stroke-width="0.68"/><use href="#c68"/><use href="#c70"/><use href="#c71"/><use href="#c72"/><use href="#c72t" stroke-width="0.7"/><use href="#c73"/><use href="#c74"/><use href="#c75"/><use href="#c75t" stroke-width="0.7"/><use href="#c76"/><use href="#c77"/><use href="#c78"/><use href="#c79"/><use href="#c80"/><use href="#c82"/><use href="#c83"/><use href="#c83t" stroke-width="0.7"/><use href="#c84"/><use href="#c85"/><use href="#c86"/><use href="#c94"/><use href="#c103"/><use href="#c105"/><use href="#c106"/><use href="#c107"/><use href="#c108"/><use href="#c109"/><use href="#c110"/><use href="#c111"/><use href="#c112"/><use href="#c112t" stroke-width="0.7"/><use href="#c113"/><use href="#c113t" stroke-width="0.7"/><use href="#c114"/><use href="#c115t" stroke-width="0.7"/><use href="#c116"/><use href="#c134"/><use href="#c136"/><use href="#c137"/><use href="#c138"/><use href="#c142"/><use href="#c143"/><use href="#c143t" stroke-width="0.7"/><use href="#c144"/><use href="#c145"/><use href="#c146"/><use href="#c147"/><use href="#c147t" stroke-width="0.7"/><use href="#c148"/><use href="#c149"/><use href="#c150"/><use href="#c153"/><use href="#c154t" stroke-width="0.7"/><use href="#c155"/><use href="#c156"/><use href="#c157"/><use href="#c157t" stroke-width="0.7"/><use href="#c158"/><use href="#c159"/><use href="#c161"/><use href="#c162"/><use href="#c163"/><use href="#c164"/><use href="#c165"/><use href="#c166"/><use href="#c172"/><use href="#c172t" stroke-width="0.7"/><use href="#c178"/><use href="#c179"/><use href="#c185" stroke-width="0.35"/></g><g fill="#E86F56"><use href="#c1"/><use href="#c2"/><use href="#c2t" stroke-width="0.7"/><use href="#c3" stroke-width="0.3"/><use href="#c28"/><use href="#c34"/><use href="#c135"/><use href="#c182"/></g><g fill="#D73B3D"><use href="#c4"/></g><g fill="#E9AD82"><use href="#c5"/><use href="#c6"/><use href="#c7"/><use href="#c8"/><use href="#c9"/><use href="#c10"/><use href="#c11"/><use href="#c12"/><use href="#c23"/><use href="#c24"/><use href="#c25"/><use href="#c29"/><use href="#c36"/><use href="#c36t" stroke-width="0.7"/><use href="#c44"/><use href="#c45"/><use href="#c49"/><use href="#c69"/><use href="#c81"/><use href="#c117"/><use href="#c118"/><use href="#c152"/><use href="#c160"/></g><g fill="#F2E5D5"><use href="#c13"/><use href="#c14"/><use href="#c15"/><use href="#c16t" stroke-width="0.7"/><use href="#c17t" stroke-width="0.7"/><use href="#c18t" stroke-width="0.7"/><use href="#c19t" stroke-width="0.7"/><use href="#c20t" stroke-width="0.7"/><use href="#c21"/><use href="#c22"/><use href="#c31"/><use href="#c47"/><use href="#c53"/><use href="#c87"/><use href="#c88"/><use href="#c89"/><use href="#c90"/><use href="#c91"/><use href="#c92"/><use href="#c93"/><use href="#c95"/><use href="#c96"/><use href="#c97"/><use href="#c98"/><use href="#c100" stroke-width="0.68"/><use href="#c101"/><use href="#c102"/><use href="#c104"/><use href="#c119"/><use href="#c120"/><use href="#c121"/><use href="#c122"/><use href="#c123"/><use href="#c124"/><use href="#c125"/><use href="#c126"/><use href="#c127"/><use href="#c128"/><use href="#c129"/><use href="#c130"/><use href="#c131"/><use href="#c132"/><use href="#c133"/><use href="#c139"/><use href="#c140"/><use href="#c141"/><use href="#c151"/><use href="#c167t" stroke-width="0.7"/><use href="#c168t" stroke-width="0.7"/><use href="#c169t" stroke-width="0.7"/><use href="#c170t" stroke-width="0.7"/><use href="#c171t" stroke-width="0.7"/><use href="#c173"/><use href="#c174"/><use href="#c175"/><use href="#c176"/><use href="#c177t" stroke-width="0.7"/><use href="#c184t" stroke-width="0.7"/></g><g fill="#A6DCE5"><use href="#c99" stroke-width="0.68"/></g><g fill="#000"><use href="#c180"/><use href="#c181"/><use href="#c183"/></g></g></g>
<g transform="translate(333.40,125.80)" stroke="#000" stroke-linejoin="round"><use href="#all" fill="none"/><g stroke-width="0.55"><g fill="#E9AD82"><use href="#c0"/><use href="#c0t" stroke-width="0.7"/><use href="#c1"/><use href="#c2"/><use href="#c2t" stroke-width="0.7"/><use href="#c3" stroke-width="0.3"/><use href="#c4"/><use href="#c5"/><use href="#c6"/><use href="#c7"/><use href="#c8"/><use href="#c9"/><use href="#c10"/><use href="#c11"/><use href="#c12"/><use href="#c21"/><use href="#c23"/><use href="#c24"/><use href="#c25"/><use href="#c30"/><use href="#c31"/><use href="#c32"/><use href="#c33"/><use href="#c33t" stroke-width="0.7"/><use href="#c37" stroke-width="0.68"/><use href="#c38" stroke-width="0.68"/><use href="#c39" stroke-width="0.68"/><use href="#c40" stroke-width="0.68"/><use href="#c41" stroke-width="0.68"/><use href="#c42" stroke-width="0.68"/><use href="#c44"/><use href="#c45"/><use href="#c46"/><use href="#c47"/><use href="#c48"/><use href="#c48t" stroke-width="0.7"/><use href="#c49"/><use href="#c50" stroke-width="0.68"/><use href="#c51" stroke-width="0.68"/><use href="#c52" stroke-width="0.68"/><use href="#c53"/><use href="#c54" stroke-width="0.68"/><use href="#c55" stroke-width="0.68"/><use href="#c56" stroke-width="0.68"/><use href="#c57" stroke-width="0.68"/><use href="#c58" stroke-width="0.68"/><use href="#c59" stroke-width="0.68"/><use href="#c60" stroke-width="0.68"/><use href="#c61" stroke-width="0.68"/><use href="#c62" stroke-width="0.68"/><use href="#c63" stroke-width="0.68"/><use href="#c64" stroke-width="0.68"/><use href="#c66"/><use href="#c67" stroke-width="0.68"/><use href="#c68"/><use href="#c70"/><use href="#c71"/><use href="#c72"/><use href="#c72t" stroke-width="0.7"/><use href="#c73"/><use href="#c74"/><use href="#c75"/><use href="#c75t" stroke-width="0.7"/><use href="#c81"/><use href="#c83"/><use href="#c83t" stroke-width="0.7"/><use href="#c84"/><use href="#c85"/><use href="#c86"/><use href="#c94"/><use href="#c97"/><use href="#c101"/><use href="#c105"/><use href="#c106"/><use href="#c107"/><use href="#c108"/><use href="#c109"/><use href="#c110"/><use href="#c111"/><use href="#c113"/><use href="#c113t" stroke-width="0.7"/><use href="#c114"/><use href="#c115t" stroke-width="0.7"/><use href="#c117"/><use href="#c118"/><use href="#c134"/><use href="#c136"/><use href="#c137"/><use href="#c138"/><use href="#c149"/><use href="#c150"/><use href="#c152"/><use href="#c153"/><use href="#c154t" stroke-width="0.7"/><use href="#c178"/><use href="#c179"/><use href="#c182"/><use href="#c184t" stroke-width="0.7"/><use href="#c185" stroke-width="0.35"/></g><g fill="#F2E5D5"><use href="#c13"/><use href="#c14"/><use href="#c15"/><use href="#c16t" stroke-width="0.7"/><use href="#c17t" stroke-width="0.7"/><use href="#c18t" stroke-width="0.7"/><use href="#c19t" stroke-width="0.7"/><use href="#c20t" stroke-width="0.7"/><use href="#c22"/><use href="#c76"/><use href="#c77"/><use href="#c78"/><use href="#c79"/><use href="#c80"/><use href="#c82"/><use href="#c87"/><use href="#c88"/><use href="#c89"/><use href="#c90"/><use href="#c91"/><use href="#c92"/><use href="#c93"/><use href="#c95"/><use href="#c96"/><use href="#c98"/><use href="#c99" stroke-width="0.68"/><use href="#c100" stroke-width="0.68"/><use href="#c102"/><use href="#c103"/><use href="#c104"/><use href="#c112"/><use href="#c112t" stroke-width="0.7"/><use href="#c119"/><use href="#c120"/><use href="#c121"/><use href="#c122"/><use href="#c123"/><use href="#c124"/><use href="#c125"/><use href="#c126"/><use href="#c127"/><use href="#c128"/><use href="#c129"/><use href="#c130"/><use href="#c131"/><use href="#c132"/><use href="#c133"/><use href="#c139"/><use href="#c140"/><use href="#c141"/><use href="#c142"/><use href="#c143"/><use href="#c143t" stroke-width="0.7"/><use href="#c144"/><use href="#c145"/><use href="#c146"/><use href="#c147"/><use href="#c147t" stroke-width="0.7"/><use href="#c148"/><use href="#c151"/><use href="#c155"/><use href="#c156"/><use href="#c157"/><use href="#c157t" stroke-width="0.7"/><use href="#c158"/><use href="#c159"/><use href="#c160"/><use href="#c161"/><use href="#c162"/><use href="#c163"/><use href="#c164"/><use href="#c165"/><use href="#c166"/><use href="#c167t" stroke-width="0.7"/><use href="#c168t" stroke-width="0.7"/><use href="#c169t" stroke-width="0.7"/><use href="#c170t" stroke-width="0.7"/><use href="#c171t" stroke-width="0.7"/><use href="#c172"/><use href="#c172t" stroke-width="0.7"/><use href="#c173"/><use href="#c174"/><use href="#c175"/><use href="#c176"/><use href="#c177t" stroke-width="0.7"/></g><g fill="#E86F56"><use href="#c26"/><use href="#c26t" stroke-width="0.7"/><use href="#c29"/><use href="#c34"/><use href="#c35"/><use href="#c35t" stroke-width="0.7"/><use href="#c36"/><use href="#c36t" stroke-width="0.7"/><use href="#c43" stroke-width="0.68"/><use href="#c65" stroke-width="0.68"/><use href="#c69"/><use href="#c116"/><use href="#c135"/></g><g fill="#D73B3D"><use href="#c27"/><use href="#c28"/></g><g fill="#000"><use href="#c180"/><use href="#c181"/><use href="#c183"/></g></g></g>
<g transform="translate(0.00,250.50)" stroke="#000" stroke-linejoin="round"><use href="#all" fill="none"/><g stroke-width="0.55"><g fill="#E9AD82"><use href="#c0"/><use href="#c0t" stroke-width="0.7"/><use href="#c5"/><use href="#c6"/><use href="#c7"/><use href="#c8"/><use href="#c9"/><use href="#c10"/><use href="#c11"/><use href="#c12"/><use href="#c23"/><use href="#c25"/><use href="#c26"/><use href="#c26t" stroke-width="0.7"/><use href="#c27"/><use href="#c29"/><use href="#c30"/><use href="#c31"/><use href="#c32"/><use href="#c33"/><use href="#c33t" stroke-width="0.7"/><use href="#c35"/><use href="#c35t" stroke-width="0.7"/><use href="#c36"/><use href="#c36t" stroke-width="0.7"/><use href="#c37" stroke-width="0.68"/><use href="#c38" stroke-width="0.68"/><use href="#c39" stroke-width="0.68"/><use href="#c40" stroke-width="0.68"/><use href="#c41" stroke-width="0.68"/><use href="#c42" stroke-width="0.68"/><use href="#c43" stroke-width="0.68"/><use href="#c44"/><use href="#c45"/><use href="#c46"/><use href="#c48"/><use href="#c48t" stroke-width="0.7"/><use href="#c49"/><use href="#c50" stroke-width="0.68"/><use href="#c51" stroke-width="0.68"/><use href="#c52" stroke-width="0.68"/><use href="#c56" stroke-width="0.68"/><use href="#c57" stroke-width="0.68"/><use href="#c58" stroke-width="0.68"/><use href="#c59" stroke-width="0.68"/><use href="#c60" stroke-width="0.68"/><use href="#c61" stroke-width="0.68"/><use href="#c62" stroke-width="0.68"/><use href="#c63" stroke-width="0.68"/><use href="#c64" stroke-width="0.68"/><use href="#c65" stroke-width="0.68"/><use href="#c67" stroke-width="0.68"/><use href="#c68"/><use href="#c69"/><use href="#c70"/><use href="#c71"/><use href="#c72"/><use href="#c72t" stroke-width="0.7"/><use href="#c73"/><use href="#c74"/><use href="#c75"/><use href="#c75t" stroke-width="0.7"/><use href="#c79"/><use href="#c80"/><use href="#c81"/><use href="#c83"/><use href="#c83t" stroke-width="0.7"/><use href="#c84"/><use href="#c85"/><use href="#c86"/><use href="#c105"/><use href="#c106"/><use href="#c107"/><use href="#c108"/><use href="#c109"/><use href="#c110"/><use href="#c111"/><use href="#c113"/><use href="#c113t" stroke-width="0.7"/><use href="#c114"/><use href="#c115t" stroke-width="0.7"/><use href="#c116"/><use href="#c117"/><use href="#c118"/><use href="#c136"/><use href="#c137"/><use href="#c138"/><use href="#c142"/><use href="#c143"/><use href="#c143t" stroke-width="0.7"/><use href="#c144"/><use href="#c145"/><use href="#c147"/><use href="#c147t" stroke-width="0.7"/><use href="#c149"/><use href="#c152"/><use href="#c153"/><use href="#c154t" stroke-width="0.7"/><use href="#c160"/><use href="#c165"/><use href="#c178"/><use href="#c179"/><use href="#c185" stroke-width="0.35"/></g><g fill="#E86F56"><use href="#c1"/><use href="#c2"/><use href="#c2t" stroke-width="0.7"/><use href="#c3" stroke-width="0.3"/><use href="#c24"/><use href="#c28"/><use href="#c34"/><use href="#c135"/><use href="#c182"/></g><g fill="#D73B3D"><use href="#c4"/></g><g fill="#F2E5D5"><use href="#c13"/><use href="#c14"/><use href="#c15"/><use href="#c16t" stroke-width="0.7"/><use href="#c17t" stroke-width="0.7"/><use href="#c18t" stroke-width="0.7"/><use href="#c19t" stroke-width="0.7"/><use href="#c20t" stroke-width="0.7"/><use href="#c21"/><use href="#c22"/><use href="#c47"/><use href="#c53"/><use href="#c54" stroke-width="0.68"/><use href="#c55" stroke-width="0.68"/><use href="#c66"/><use href="#c76"/><use href="#c77"/><use href="#c78"/><use href="#c82"/><use href="#c87"/><use href="#c88"/><use href="#c89"/><use href="#c90"/><use href="#c91"/><use href="#c92"/><use href="#c93"/><use href="#c94"/><use href="#c95"/><use href="#c96"/><use href="#c97"/><use href="#c98"/><use href="#c100" stroke-width="0.68"/><use href="#c101"/><use href="#c102"/><use href="#c103"/><use href="#c104"/><use href="#c112"/><use href="#c112t" stroke-width="0.7"/><use href="#c119"/><use href="#c120"/><use href="#c121"/><use href="#c122"/><use href="#c123"/><use href="#c124"/><use href="#c125"/><use href="#c126"/><use href="#c127"/><use href="#c128"/><use href="#c129"/><use href="#c130"/><use href="#c131"/><use href="#c132"/><use href="#c133"/><use href="#c134"/><use href="#c139"/><use href="#c140"/><use href="#c141"/><use href="#c146"/><use href="#c148"/><use href="#c150"/><use href="#c151"/><use href="#c155"/><use href="#c156"/><use href="#c157"/><use href="#c157t" stroke-width="0.7"/><use href="#c158"/><use href="#c159"/><use href="#c161"/><use href="#c162"/><use href="#c163"/><use href="#c164"/><use href="#c166"/><use href="#c167t" stroke-width="0.7"/><use href="#c168t" stroke-width="0.7"/><use href="#c169t" stroke-width="0.7"/><use href="#c170t" stroke-width="0.7"/><use href="#c171t" stroke-width="0.7"/><use href="#c172"/><use href="#c172t" stroke-width="0.7"/><use href="#c173"/><use href="#c174"/><use href="#c175"/><use href="#c176"/><use href="#c177t" stroke-width="0.7"/><use href="#c184t" stroke-width="0.7"/></g><g fill="#A6DCE5"><use href="#c99" stroke-width="0.68"/></g><g fill="#000"><use href="#c180"/><use href="#c181"/><use href="#c183"/></g></g></g>
<g transform="translate(333.40,250.50)" stroke="#000" stroke-linejoin="round"><use href="#all" fill="none"/><g stroke-width="0.55"><g fill="#EEC9AC"><use href="#c0"/><use href="#c0t" stroke-width="0.7"/><use href="#c31"/><use href="#c49"/><use href="#c50" stroke-width="0.68"/><use href="#c51" stroke-width="0.68"/><use href="#c52" stroke-width="0.68"/><use href="#c53"/><use href="#c54" stroke-width="0.68"/><use href="#c55" stroke-width="0.68"/><use href="#c56" stroke-width="0.68"/><use href="#c57" stroke-width="0.68"/><use href="#c58" stroke-width="0.68"/><use href="#c59" stroke-width="0.68"/><use href="#c60" stroke-width="0.68"/><use href="#c61" stroke-width="0.68"/><use href="#c62" stroke-width="0.68"/><use href="#c63" stroke-width="0.68"/><use href="#c67" stroke-width="0.68"/><use href="#c69"/><use href="#c71"/><use href="#c72"/><use href="#c72t" stroke-width="0.7"/><use href="#c73"/><use href="#c74"/><use href="#c75"/><use href="#c75t" stroke-width="0.7"/><use href="#c79"/><use href="#c80"/><use href="#c82"/><use href="#c83"/><use href="#c83t" stroke-width="0.7"/><use href="#c84"/><use href="#c85"/><use href="#c86"/><use href="#c94"/><use href="#c101"/><use href="#c106"/><use href="#c107"/><use href="#c108"/><use href="#c110"/><use href="#c111"/><use href="#c112"/><use href="#c112t" stroke-width="0.7"/><use href="#c113"/><use href="#c113t" stroke-width="0.7"/><use href="#c114"/><use href="#c115t" stroke-width="0.7"/><use href="#c134"/><use href="#c137"/><use href="#c141"/><use href="#c143"/><use href="#c143t" stroke-width="0.7"/><use href="#c144"/><use href="#c145"/><use href="#c147"/><use href="#c147t" stroke-width="0.7"/><use href="#c148"/><use href="#c150"/><use href="#c151"/><use href="#c153"/><use href="#c154t" stroke-width="0.7"/><use href="#c155"/><use href="#c156"/><use href="#c157"/><use href="#c157t" stroke-width="0.7"/><use href="#c158"/><use href="#c159"/><use href="#c160"/><use href="#c161"/><use href="#c162"/><use href="#c163"/><use href="#c164"/><use href="#c165"/><use href="#c166"/><use href="#c178"/><use href="#c179"/><use href="#c185" stroke-width="0.35"/></g><g fill="#E9AD82"><use href="#c1"/><use href="#c2"/><use href="#c2t" stroke-width="0.7"/><use href="#c3" stroke-width="0.3"/><use href="#c4"/><use href="#c5"/><use href="#c6"/><use href="#c7"/><use href="#c8"/><use href="#c9"/><use href="#c10"/><use href="#c11"/><use href="#c12"/><use href="#c21"/><use href="#c23"/><use href="#c24"/><use href="#c25"/><use href="#c30"/><use href="#c32"/><use href="#c33"/><use href="#c33t" stroke-width="0.7"/><use href="#c35"/><use href="#c35t" stroke-width="0.7"/><use href="#c37" stroke-width="0.68"/><use href="#c38" stroke-width="0.68"/><use href="#c39" stroke-width="0.68"/><use href="#c40" stroke-width="0.68"/><use href="#c41" stroke-width="0.68"/><use href="#c42" stroke-width="0.68"/><use href="#c44"/><use href="#c45"/><use href="#c46"/><use href="#c47"/><use href="#c48"/><use href="#c48t" stroke-width="0.7"/><use href="#c64" stroke-width="0.68"/><use href="#c65" stroke-width="0.68"/><use href="#c66"/><use href="#c68"/><use href="#c70"/><use href="#c81"/><use href="#c97"/><use href="#c105"/><use href="#c109"/><use href="#c117"/><use href="#c118"/><use href="#c135"/><use href="#c136"/><use href="#c138"/><use href="#c149"/><use href="#c152"/><use href="#c182"/><use href="#c184t" stroke-width="0.7"/></g><g fill="#F2E5D5"><use href="#c13"/><use href="#c14"/><use href="#c15"/><use href="#c16t" stroke-width="0.7"/><use href="#c17t" stroke-width="0.7"/><use href="#c18t" stroke-width="0.7"/><use href="#c19t" stroke-width="0.7"/><use href="#c20t" stroke-width="0.7"/><use href="#c22"/><use href="#c76"/><use href="#c77"/><use href="#c78"/><use href="#c87"/><use href="#c88"/><use href="#c89"/><use href="#c90"/><use href="#c91"/><use href="#c92"/><use href="#c93"/><use href="#c95"/><use href="#c96"/><use href="#c98"/><use href="#c99" stroke-width="0.68"/><use href="#c100" stroke-width="0.68"/><use href="#c102"/><use href="#c103"/><use href="#c104"/><use href="#c119"/><use href="#c120"/><use href="#c121"/><use href="#c122"/><use href="#c123"/><use href="#c124"/><use href="#c125"/><use href="#c126"/><use href="#c127"/><use href="#c128"/><use href="#c129"/><use href="#c130"/><use href="#c131"/><use href="#c132"/><use href="#c133"/><use href="#c139"/><use href="#c140"/><use href="#c142"/><use href="#c146"/><use href="#c167t" stroke-width="0.7"/><use href="#c168t" stroke-width="0.7"/><use href="#c169t" stroke-width="0.7"/><use href="#c170t" stroke-width="0.7"/><use href="#c171t" stroke-width="0.7"/><use href="#c172"/><use href="#c172t" stroke-width="0.7"/><use href="#c173"/><use href="#c174"/><use href="#c175"/><use href="#c176"/><use href="#c177t" stroke-width="0.7"/></g><g fill="#D73B3D"><use href="#c26"/><use href="#c26t" stroke-width="0.7"/><use href="#c27"/><use href="#c28"/></g><g fill="#E86F56"><use href="#c29"/><use href="#c34"/><use href="#c36"/><use href="#c36t" stroke-width="0.7"/><use href="#c43" stroke-width="0.68"/><use href="#c116"/></g><g fill="#000"><use href="#c180"/><use href="#c181"/><use href="#c183"/></g></g></g>
<rect x="299.80" y="35.70" width="9.20" height="9.45" fill="#A6DCE5" stroke="#000" stroke-width="0.6"/>
<rect x="299.80" y="45.15" width="9.20" height="9.45" fill="#F2E5D5" stroke="#000" stroke-width="0.6"/>
<rect x="299.80" y="54.60" width="9.20" height="9.45" fill="#E9AD82" stroke="#000" stroke-width="0.6"/>
<rect x="299.80" y="64.05" width="9.20" height="9.45" fill="#E86F56" stroke="#000" stroke-width="0.6"/>
<rect x="299.80" y="73.50" width="9.20" height="9.45" fill="#D73B3D" stroke="#000" stroke-width="0.6"/>
<rect x="620.50" y="44.90" width="9.20" height="9.45" fill="#F2E5D5" stroke="#000" stroke-width="0.6"/>
<rect x="620.50" y="54.35" width="9.20" height="9.45" fill="#EEC9AC" stroke="#000" stroke-width="0.6"/>
<rect x="620.50" y="63.80" width="9.20" height="9.45" fill="#E9AD82" stroke="#000" stroke-width="0.6"/>
<rect x="620.50" y="73.25" width="9.20" height="9.45" fill="#E86F56" stroke="#000" stroke-width="0.6"/>
<rect x="620.50" y="82.70" width="9.20" height="9.45" fill="#D73B3D" stroke="#000" stroke-width="0.6"/>
<rect x="299.80" y="167.40" width="9.20" height="9.45" fill="#A6DCE5" stroke="#000" stroke-width="0.6"/>
<rect x="299.80" y="176.85" width="9.20" height="9.45" fill="#F2E5D5" stroke="#000" stroke-width="0.6"/>
<rect x="299.80" y="186.30" width="9.20" height="9.45" fill="#EEC9AC" stroke="#000" stroke-width="0.6"/>
<rect x="299.80" y="195.75" width="9.20" height="9.45" fill="#E9AD82" stroke="#000" stroke-width="0.6"/>
<rect x="299.80" y="205.20" width="9.20" height="9.45" fill="#E86F56" stroke="#000" stroke-width="0.6"/>
<rect x="299.80" y="214.65" width="9.20" height="9.45" fill="#D73B3D" stroke="#000" stroke-width="0.6"/>
<rect x="620.50" y="171.40" width="9.20" height="9.45" fill="#F2E5D5" stroke="#000" stroke-width="0.6"/>
<rect x="620.50" y="180.85" width="9.20" height="9.45" fill="#E9AD82" stroke="#000" stroke-width="0.6"/>
<rect x="620.50" y="190.30" width="9.20" height="9.45" fill="#E86F56" stroke="#000" stroke-width="0.6"/>
<rect x="620.50" y="199.75" width="9.20" height="9.45" fill="#D73B3D" stroke="#000" stroke-width="0.6"/>
<rect x="299.80" y="299.90" width="9.20" height="9.45" fill="#A6DCE5" stroke="#000" stroke-width="0.6"/>
<rect x="299.80" y="309.35" width="9.20" height="9.45" fill="#F2E5D5" stroke="#000" stroke-width="0.6"/>
<rect x="299.80" y="318.80" width="9.20" height="9.45" fill="#E9AD82" stroke="#000" stroke-width="0.6"/>
<rect x="299.80" y="328.25" width="9.20" height="9.45" fill="#E86F56" stroke="#000" stroke-width="0.6"/>
<rect x="299.80" y="337.70" width="9.20" height="9.45" fill="#D73B3D" stroke="#000" stroke-width="0.6"/>
<rect x="620.50" y="296.80" width="9.20" height="9.45" fill="#F2E5D5" stroke="#000" stroke-width="0.6"/>
<rect x="620.50" y="306.25" width="9.20" height="9.45" fill="#EEC9AC" stroke="#000" stroke-width="0.6"/>
<rect x="620.50" y="315.70" width="9.20" height="9.45" fill="#E9AD82" stroke="#000" stroke-width="0.6"/>
<rect x="620.50" y="325.15" width="9.20" height="9.45" fill="#E86F56" stroke="#000" stroke-width="0.6"/>
<rect x="620.50" y="334.60" width="9.20" height="9.45" fill="#D73B3D" stroke="#000" stroke-width="0.6"/>
<g style="filter:grayscale(1)">
<text x="108.6" y="9.8" class="t">Major depressive disorders</text>
<text x="454" y="9.8" class="t">Anxiety disorders</text>
<text x="1.2" y="24.6" class="r" xml:space="preserve">A.   ASPR</text>
<text x="1.2" y="147.9" class="r">B. ASIR</text>
<text x="1.2" y="275.7" class="r">C. ASDR</text>
<text x="299.7" y="32.2" class="lt">Rate (per 100,000)</text>
<text x="313.8" y="42.63" class="ll">−500−0</text>
<text x="313.8" y="52.08" class="ll">0−500</text>
<text x="313.8" y="61.53" class="ll">500−1000</text>
<text x="313.8" y="70.97" class="ll">1000−1500</text>
<text x="313.8" y="80.42" class="ll">1500−2000</text>
<text x="620.4" y="41.4" class="lt">Rate (per 100,000)</text>
<text x="634.5" y="51.83" class="ll">0−500</text>
<text x="634.5" y="61.27" class="ll">500−1000</text>
<text x="634.5" y="70.72" class="ll">1000−1500</text>
<text x="634.5" y="80.17" class="ll">1500−2000</text>
<text x="634.5" y="89.62" class="ll">2000−2500</text>
<text x="299.7" y="164.8" class="lt">Rate (per 100,000)</text>
<text x="313.8" y="174.32" class="ll">−500−0</text>
<text x="313.8" y="183.77" class="ll">0−500</text>
<text x="313.8" y="193.22" class="ll">500−1000</text>
<text x="313.8" y="202.67" class="ll">1000−1500</text>
<text x="313.8" y="212.12" class="ll">1500−2000</text>
<text x="313.8" y="221.57" class="ll">2000−2500</text>
<text x="620.4" y="167.9" class="lt">Rate (per 100,000)</text>
<text x="634.5" y="178.32" class="ll">0−100</text>
<text x="634.5" y="187.77" class="ll">100−200</text>
<text x="634.5" y="197.22" class="ll">200−300</text>
<text x="634.5" y="206.67" class="ll">300−400</text>
<text x="299.7" y="296.7" class="lt">Rate (per 100,000)</text>
<text x="313.8" y="306.82" class="ll">−100−0</text>
<text x="313.8" y="316.27" class="ll">0−100</text>
<text x="313.8" y="325.72" class="ll">100−200</text>
<text x="313.8" y="335.18" class="ll">200−300</text>
<text x="313.8" y="344.62" class="ll">300−400</text>
<text x="620.4" y="293.7" class="lt">Rate (per 100,000)</text>
<text x="634.5" y="303.73" class="ll">0−50</text>
<text x="634.5" y="313.18" class="ll">50−100</text>
<text x="634.5" y="322.62" class="ll">100−150</text>
<text x="634.5" y="332.08" class="ll">150−200</text>
<text x="634.5" y="341.53" class="ll">200−300</text>
</g>
</svg>
</body></html>
